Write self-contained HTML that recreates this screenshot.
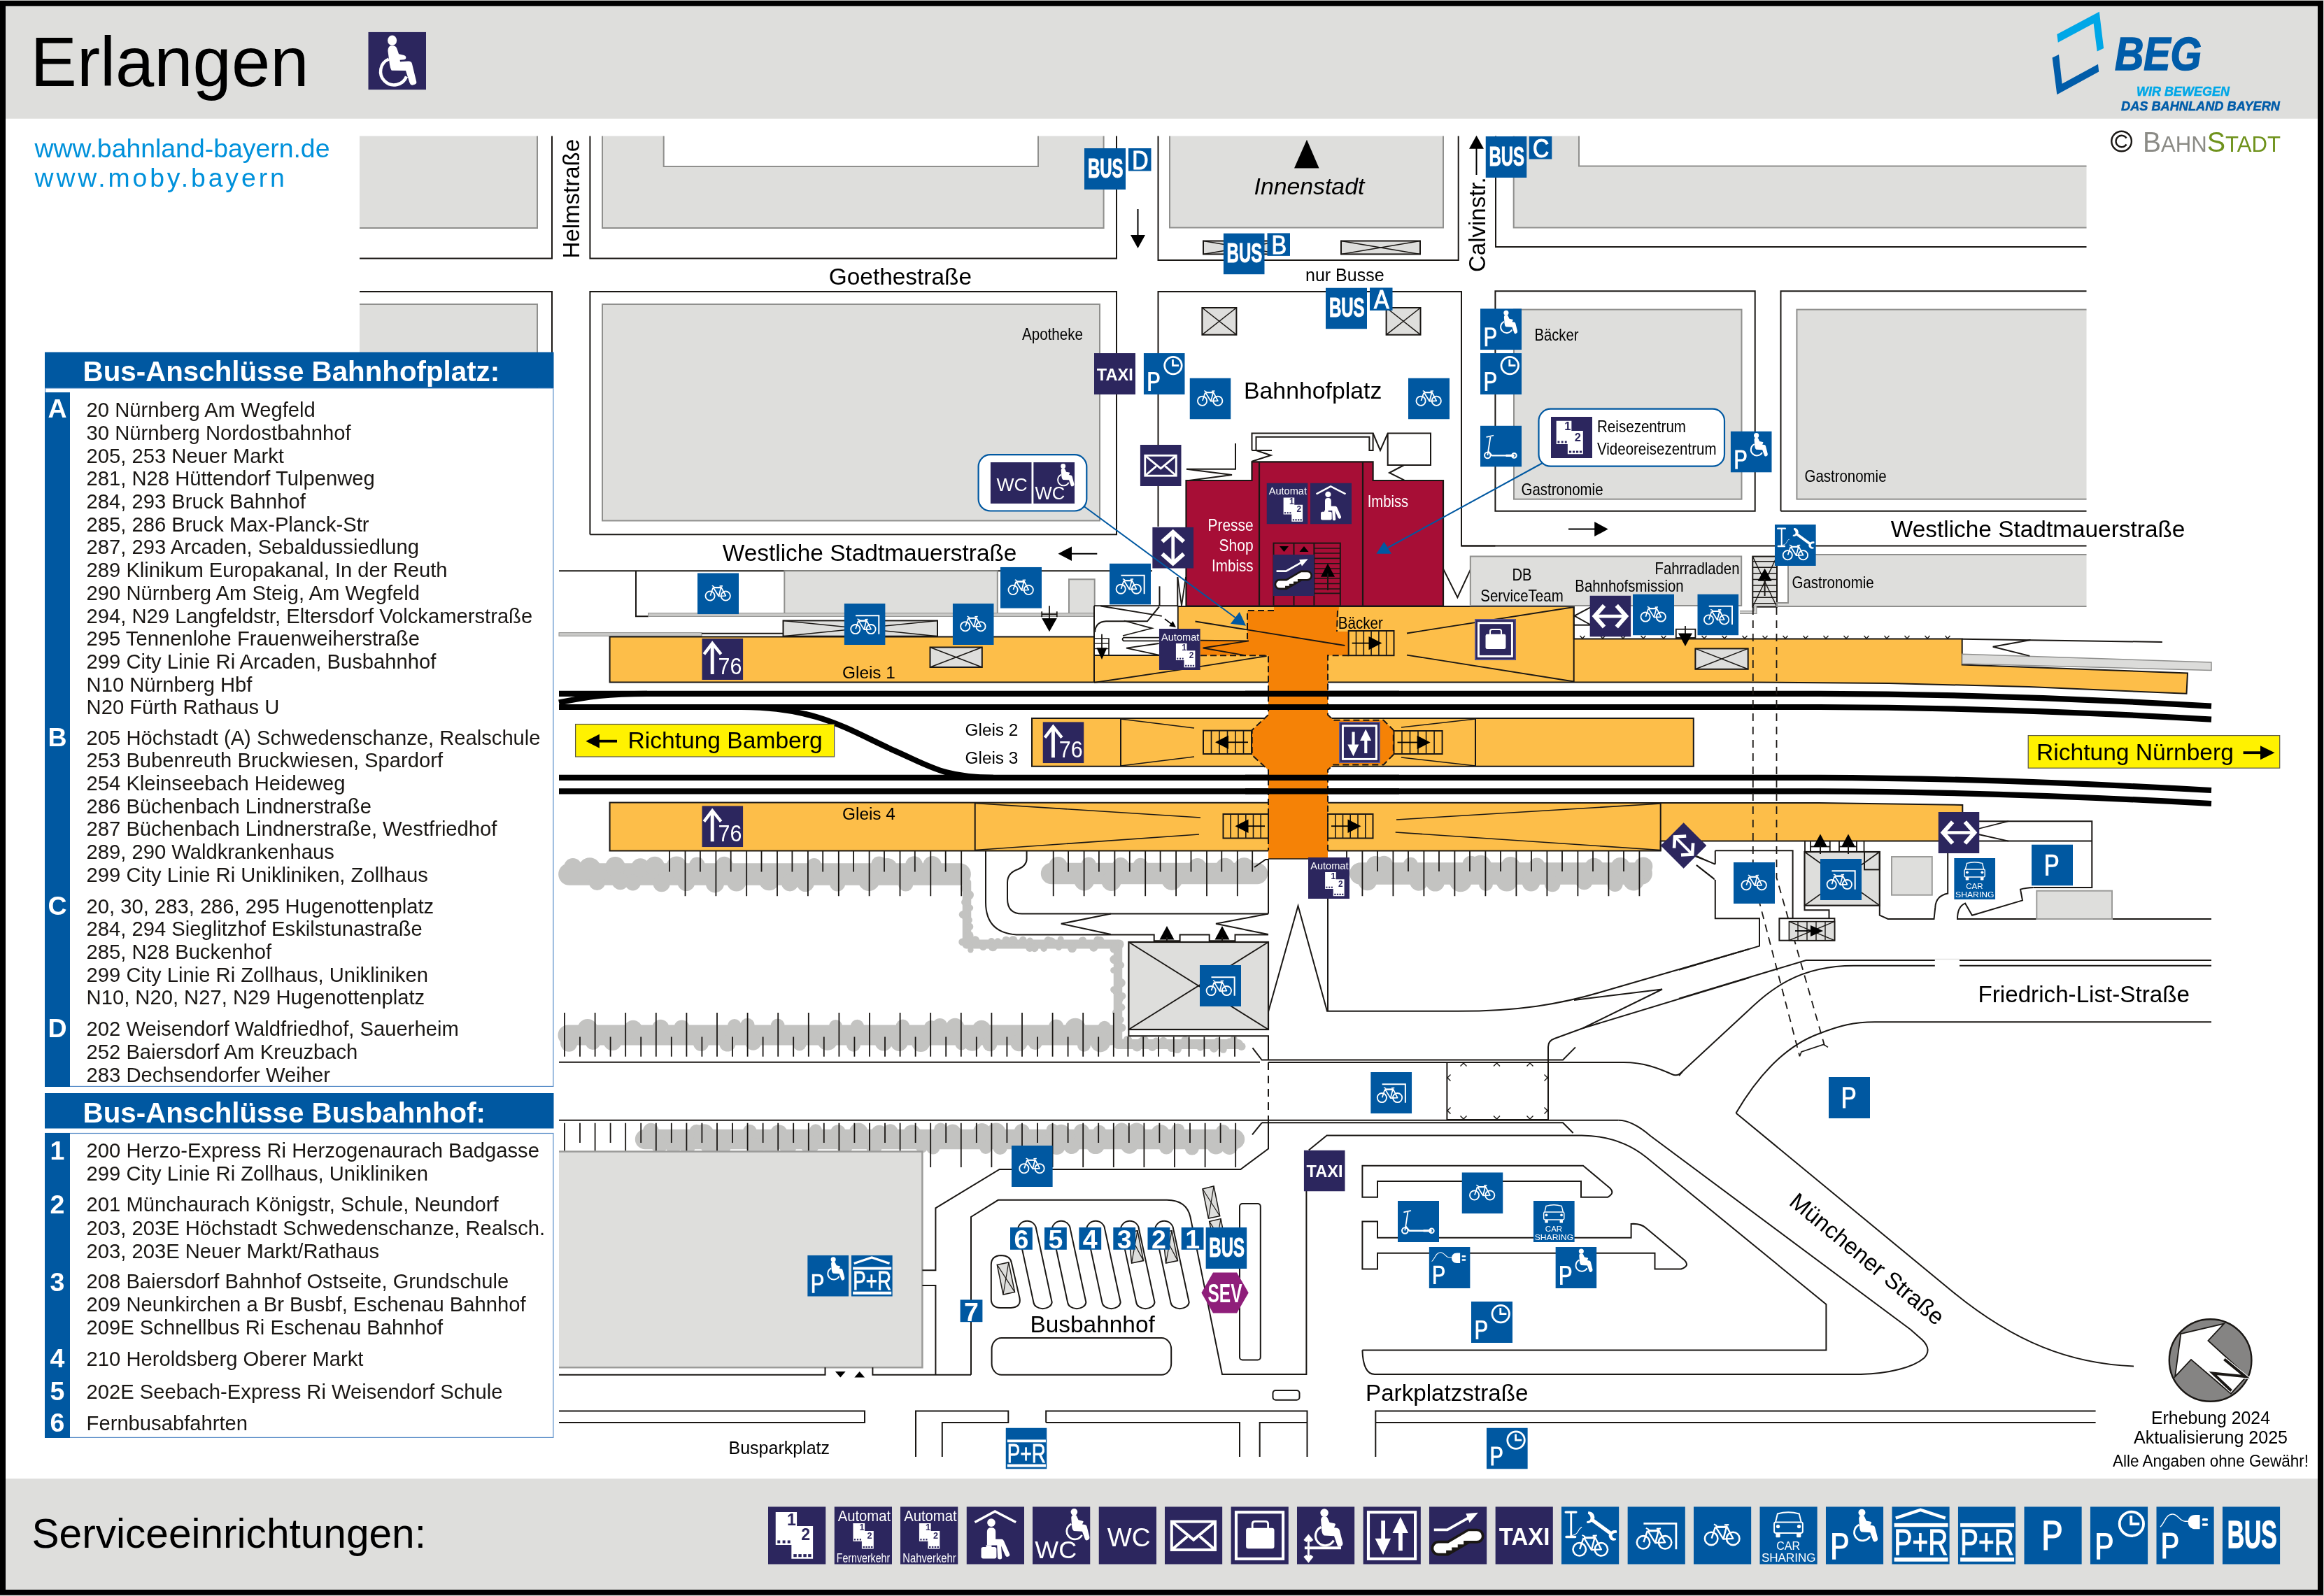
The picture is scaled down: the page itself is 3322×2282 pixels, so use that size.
<!DOCTYPE html>
<html><head><meta charset="utf-8"><title>Erlangen</title>
<style>html,body{margin:0;padding:0;background:#fff}svg{display:block;will-change:transform}text{font-family:"Liberation Sans",sans-serif}</style></head>
<body><svg xmlns="http://www.w3.org/2000/svg" width="3322" height="2282" viewBox="0 0 3322 2282" font-family="Liberation Sans, sans-serif">
<defs>
<symbol id="bike" viewBox="0 0 100 100"><rect width="100" height="100" fill="#0058a1"/><g fill="none" stroke="#fff" stroke-linecap="butt"><circle cx="30.6" cy="55.4" r="11.2" stroke-width="3.1"/><circle cx="68.3" cy="55.4" r="11.2" stroke-width="3.1"/><path d="M31.2,55 L37.6,35.5 M38.3,35.2 L57.8,35.2 M38.8,36 L51.5,56.3 L68.3,55.4 L57.3,34 M57.5,33 L51.5,56.3" stroke-width="2.9" stroke-linejoin="round"/><path d="M38.3,35.2 L57.8,35.2" stroke-width="3.6"/><path d="M53.5,31.8 L61,31.5" stroke-width="2.6"/><path d="M35.2,30.6 L40.5,33.2" stroke-width="2.4"/></g></symbol>
<symbol id="bikeroof" viewBox="0 0 100 100"><rect width="100" height="100" fill="#0058a1"/><g transform="translate(-3.2,6.6)"><g fill="none" stroke="#fff" stroke-linecap="butt"><circle cx="30.6" cy="55.4" r="11.2" stroke-width="3.1"/><circle cx="68.3" cy="55.4" r="11.2" stroke-width="3.1"/><path d="M31.2,55 L37.6,35.5 M38.3,35.2 L57.8,35.2 M38.8,36 L51.5,56.3 L68.3,55.4 L57.3,34 M57.5,33 L51.5,56.3" stroke-width="2.9" stroke-linejoin="round"/><path d="M38.3,35.2 L57.8,35.2" stroke-width="3.6"/><path d="M53.5,31.8 L61,31.5" stroke-width="2.6"/><path d="M35.2,30.6 L40.5,33.2" stroke-width="2.4"/></g></g><path d="M27.9,29.2 H84.2 V74.1" fill="none" stroke="#fff" stroke-width="3.4"/></symbol>
<symbol id="bikeserv" viewBox="0 0 100 100"><rect width="100" height="100" fill="#0058a1"/><g transform="translate(0.7,18.7)"><g fill="none" stroke="#fff" stroke-linecap="butt"><circle cx="30.6" cy="55.4" r="11.2" stroke-width="3.1"/><circle cx="68.3" cy="55.4" r="11.2" stroke-width="3.1"/><path d="M31.2,55 L37.6,35.5 M38.3,35.2 L57.8,35.2 M38.8,36 L51.5,56.3 L68.3,55.4 L57.3,34 M57.5,33 L51.5,56.3" stroke-width="2.9" stroke-linejoin="round"/><path d="M38.3,35.2 L57.8,35.2" stroke-width="3.6"/><path d="M53.5,31.8 L61,31.5" stroke-width="2.6"/><path d="M35.2,30.6 L40.5,33.2" stroke-width="2.4"/></g></g><path d="M7.5,9.6 H25.5 M8.5,52.5 H24" stroke="#fff" stroke-width="4" stroke-linecap="round" fill="none"/><path d="M16.8,9.6 V52" stroke="#fff" stroke-width="3.4" fill="none"/><path d="M18,50 C26,49 28,45 30,41 C32,37 33,36.5 35.5,36" stroke="#fff" stroke-width="1.3" fill="none"/><path d="M52,22 L86,47" stroke="#fff" stroke-width="6.4" fill="none"/><path d="M46.5,8.5 C53,8 58,13 57.5,20.5 L52,26.5 C49,29 46,29.5 43.5,28 L44.5,25 C48,25.5 50.5,23 50.5,20 C50.5,16.5 49,14 46,12.5 Z" fill="#fff"/><path d="M96,41.5 C90,40 85.5,42.5 84,46.5 L82,50 C83,57 88,60.5 94.5,58 L94.5,55 C90.5,55.5 88,53.5 88,50.5 C88,47 91,45.5 96,45.5 Z" fill="#fff"/></symbol>
<symbol id="P" viewBox="0 0 100 100"><rect width="100" height="100" fill="#0058a1"/><path transform="translate(34,75.5) scale(1.1168) translate(-11.1,-91.8)" d="M11.1,46 H26 C34.5,46 38.8,51.5 38.8,59.6 C38.8,68 34.5,73.3 26,73.3 H17.3 V91.8 H11.1 Z M17.3,51.6 V67.7 H25.5 C30.5,67.7 32.6,64.5 32.6,59.6 C32.6,54.8 30.5,51.6 25.5,51.6 Z" fill="#fff" fill-rule="evenodd"/></symbol>
<symbol id="Pclock" viewBox="0 0 100 100"><rect width="100" height="100" fill="#0058a1"/><path transform="translate(11.2,91.6) scale(1.0001) translate(-11.1,-91.8)" d="M11.1,46 H26 C34.5,46 38.8,51.5 38.8,59.6 C38.8,68 34.5,73.3 26,73.3 H17.3 V91.8 H11.1 Z M17.3,51.6 V67.7 H25.5 C30.5,67.7 32.6,64.5 32.6,59.6 C32.6,54.8 30.5,51.6 25.5,51.6 Z" fill="#fff" fill-rule="evenodd"/><circle cx="71.6" cy="29.8" r="20.8" fill="none" stroke="#fff" stroke-width="4.7"/><path d="M70.8,15.4 V30 H85.4" fill="none" stroke="#fff" stroke-width="4.7"/></symbol>
<symbol id="Pwheel" viewBox="0 0 100 100"><rect width="100" height="100" fill="#0058a1"/><path transform="translate(11.2,91.6) scale(1.0001) translate(-11.1,-91.8)" d="M11.1,46 H26 C34.5,46 38.8,51.5 38.8,59.6 C38.8,68 34.5,73.3 26,73.3 H17.3 V91.8 H11.1 Z M17.3,51.6 V67.7 H25.5 C30.5,67.7 32.6,64.5 32.6,59.6 C32.6,54.8 30.5,51.6 25.5,51.6 Z" fill="#fff" fill-rule="evenodd"/><g transform="translate(62.6,10.25) scale(1)"><circle cx="0" cy="0" r="6.05" fill="#fff"/><path d="M-2.1,5.25 Q-5,6.5 -5.2,10 L-4,25.85 Q-3.5,32 -0.5,33.9 L14.5,34.75 L19.3,48.35 Q20.5,51.5 23.5,50.4 Q28,49 27.5,44.95 L22.7,25.85 Q22,22.9 19,22.6 L14.5,22.05 L16.6,17.65 Q16.8,16.2 15.2,15.95 L7.7,14.25 L4.6,7.5 Q3.8,5.6 2.1,5.25 Z" fill="#fff"/><path d="M-4.9,21.3 A14.4,14.4 0 1 0 13.9,41.15" fill="none" stroke="#fff" stroke-width="3.4"/></g></symbol>
<symbol id="Pcharge" viewBox="0 0 100 100"><rect width="100" height="100" fill="#0058a1"/><path transform="translate(10.9,90) scale(0.9774) translate(-11.1,-91.8)" d="M11.1,46 H26 C34.5,46 38.8,51.5 38.8,59.6 C38.8,68 34.5,73.3 26,73.3 H17.3 V91.8 H11.1 Z M17.3,51.6 V67.7 H25.5 C30.5,67.7 32.6,64.5 32.6,59.6 C32.6,54.8 30.5,51.6 25.5,51.6 Z" fill="#fff" fill-rule="evenodd"/><path d="M6.8,35 C14,30 16,13 28,13 C38,13 40,25.5 50,25.5 L56,25.5" fill="none" stroke="#fff" stroke-width="1.7"/><path d="M75.5,14.3 V38.9 H68 C59,38.9 55,33 55,26.6 C55,20 59,14.3 68,14.3 Z" fill="#fff"/><rect x="79.6" y="20.3" width="9.6" height="4.2" rx="1.5" fill="#fff"/><rect x="79.6" y="29.2" width="9.6" height="4.2" rx="1.5" fill="#fff"/></symbol>
<symbol id="PR" viewBox="0 0 100 100"><rect width="100" height="100" fill="#0058a1"/><text x="50.5" y="84" text-anchor="middle" textLength="93" lengthAdjust="spacingAndGlyphs" font-family="Liberation Sans, sans-serif" font-size="62" fill="#fff" stroke="#fff" stroke-width="1.3">P+R</text><rect x="4" y="28.7" width="93.3" height="6.5" fill="#fff"/><rect x="4" y="88.2" width="93.3" height="7" fill="#fff"/></symbol>
<symbol id="PRroof" viewBox="0 0 100 100"><rect width="100" height="100" fill="#0058a1"/><text x="50.5" y="84" text-anchor="middle" textLength="93" lengthAdjust="spacingAndGlyphs" font-family="Liberation Sans, sans-serif" font-size="62" fill="#fff" stroke="#fff" stroke-width="1.3">P+R</text><rect x="4" y="28.7" width="93.3" height="6.5" fill="#fff"/><rect x="4" y="88.2" width="93.3" height="7" fill="#fff"/><path d="M6.7,20 L49.7,5.6 L92.7,20" fill="none" stroke="#fff" stroke-width="5.5"/></symbol>
<symbol id="BUS" viewBox="0 0 100 100"><rect width="100" height="100" fill="#0058a1"/><text x="51.3" y="71" text-anchor="middle" textLength="86" lengthAdjust="spacingAndGlyphs" font-family="Liberation Sans, sans-serif" font-size="66.5" font-weight="bold" fill="#fff" stroke="#fff" stroke-width="1.6">BUS</text></symbol>
<symbol id="carshare" viewBox="0 0 100 100"><rect width="100" height="100" fill="#0058a1"/><path d="M27.5,27 L31,12.5 Q49.5,7 68.5,12.5 L72,27" fill="none" stroke="#fff" stroke-width="2.4"/><rect x="25.2" y="27" width="49.4" height="18.8" rx="3" fill="none" stroke="#fff" stroke-width="2.4"/><circle cx="31.8" cy="34.4" r="3.2" fill="#fff"/><circle cx="68.2" cy="34.4" r="3.2" fill="#fff"/><rect x="28" y="46" width="7.6" height="7.3" rx="1" fill="#fff"/><rect x="64" y="46" width="7.6" height="7.3" rx="1" fill="#fff"/><text x="49.5" y="74.4" text-anchor="middle" font-family="Liberation Sans, sans-serif" font-size="19.5" fill="#fff">CAR</text><text x="50.2" y="95" text-anchor="middle" textLength="94" lengthAdjust="spacingAndGlyphs" font-family="Liberation Sans, sans-serif" font-size="19.5" fill="#fff">SHARING</text></symbol>
<symbol id="scooter" viewBox="0 0 100 100"><rect width="100" height="100" fill="#0058a1"/><g fill="none" stroke="#fff"><circle cx="17.5" cy="72" r="7.2" stroke-width="3.5"/><circle cx="82" cy="72.5" r="5.6" stroke-width="3.5"/><path d="M17.5,72 L24.5,27" stroke-width="3.1"/><path d="M15.5,27.5 L31,24" stroke-width="3" stroke-linecap="round"/><path d="M19,62 L28,72.5 L82,72.5" stroke-width="3.9" stroke-linejoin="round"/><path d="M62,72.5 L82,72.5" stroke-width="5.4"/></g></symbol>
<symbol id="taxi" viewBox="0 0 100 100"><rect width="100" height="100" fill="#2c265e"/><text x="50.5" y="66" text-anchor="middle" textLength="88" lengthAdjust="spacingAndGlyphs" font-family="Liberation Sans, sans-serif" font-size="42" font-weight="bold" fill="#fff">TAXI</text></symbol>
<symbol id="ticket" viewBox="0 0 100 100"><rect width="100" height="100" fill="#2c265e"/><g transform="translate(0,0) scale(1)"><path d="M13,9.6 H49.8 V33.7 H77.7 V90.3 H40.4 V66.3 H13 Z" fill="#fff"/><g fill="#2c265e"><rect x="16.1" y="58.5" width="4.8" height="5"/><rect x="25" y="58.5" width="4.8" height="5"/><rect x="33.6" y="58.5" width="4.8" height="5"/><rect x="44" y="82.3" width="5.4" height="5"/><rect x="52.5" y="82.3" width="5.4" height="5"/><rect x="61" y="82.3" width="5.4" height="5"/><rect x="69.3" y="82.3" width="5.4" height="5"/><text x="40.6" y="32.6" text-anchor="middle" font-family="Liberation Sans, sans-serif" font-size="28" font-weight="bold">1</text><text x="65.2" y="58.5" text-anchor="middle" font-family="Liberation Sans, sans-serif" font-size="28" font-weight="bold">2</text></g></g></symbol>
<symbol id="automatF" viewBox="0 0 100 100"><rect width="100" height="100" fill="#2c265e"/><text x="52" y="25" text-anchor="middle" textLength="91.5" lengthAdjust="spacingAndGlyphs" font-family="Liberation Sans, sans-serif" font-size="26" fill="#fff">Automat</text><g transform="translate(25.5,23.5) scale(0.55)"><path d="M13,9.6 H49.8 V33.7 H77.7 V90.3 H40.4 V66.3 H13 Z" fill="#fff"/><g fill="#2c265e"><rect x="16.1" y="58.5" width="4.8" height="5"/><rect x="25" y="58.5" width="4.8" height="5"/><rect x="33.6" y="58.5" width="4.8" height="5"/><rect x="44" y="82.3" width="5.4" height="5"/><rect x="52.5" y="82.3" width="5.4" height="5"/><rect x="61" y="82.3" width="5.4" height="5"/><rect x="69.3" y="82.3" width="5.4" height="5"/><text x="40.6" y="32.6" text-anchor="middle" font-family="Liberation Sans, sans-serif" font-size="28" font-weight="bold">1</text><text x="65.2" y="58.5" text-anchor="middle" font-family="Liberation Sans, sans-serif" font-size="28" font-weight="bold">2</text></g></g><text x="50.3" y="96.2" text-anchor="middle" textLength="92.5" lengthAdjust="spacingAndGlyphs" font-family="Liberation Sans, sans-serif" font-size="21.5" fill="#fff">Fernverkehr</text></symbol>
<symbol id="automatN" viewBox="0 0 100 100"><rect width="100" height="100" fill="#2c265e"/><text x="52" y="25" text-anchor="middle" textLength="91.5" lengthAdjust="spacingAndGlyphs" font-family="Liberation Sans, sans-serif" font-size="26" fill="#fff">Automat</text><g transform="translate(25.5,23.5) scale(0.55)"><path d="M13,9.6 H49.8 V33.7 H77.7 V90.3 H40.4 V66.3 H13 Z" fill="#fff"/><g fill="#2c265e"><rect x="16.1" y="58.5" width="4.8" height="5"/><rect x="25" y="58.5" width="4.8" height="5"/><rect x="33.6" y="58.5" width="4.8" height="5"/><rect x="44" y="82.3" width="5.4" height="5"/><rect x="52.5" y="82.3" width="5.4" height="5"/><rect x="61" y="82.3" width="5.4" height="5"/><rect x="69.3" y="82.3" width="5.4" height="5"/><text x="40.6" y="32.6" text-anchor="middle" font-family="Liberation Sans, sans-serif" font-size="28" font-weight="bold">1</text><text x="65.2" y="58.5" text-anchor="middle" font-family="Liberation Sans, sans-serif" font-size="28" font-weight="bold">2</text></g></g><text x="50.3" y="96.2" text-anchor="middle" textLength="92.5" lengthAdjust="spacingAndGlyphs" font-family="Liberation Sans, sans-serif" font-size="21.5" fill="#fff">Nahverkehr</text></symbol>
<symbol id="automat" viewBox="0 0 100 100"><rect width="100" height="100" fill="#2c265e"/><text x="51.5" y="28.3" text-anchor="middle" textLength="92" lengthAdjust="spacingAndGlyphs" font-family="Liberation Sans, sans-serif" font-size="25.5" fill="#fff">Automat</text><g transform="translate(31.5,28.5) scale(0.72)"><path d="M13,9.6 H49.8 V33.7 H77.7 V90.3 H40.4 V66.3 H13 Z" fill="#fff"/><g fill="#2c265e"><rect x="16.1" y="58.5" width="4.8" height="5"/><rect x="25" y="58.5" width="4.8" height="5"/><rect x="33.6" y="58.5" width="4.8" height="5"/><rect x="44" y="82.3" width="5.4" height="5"/><rect x="52.5" y="82.3" width="5.4" height="5"/><rect x="61" y="82.3" width="5.4" height="5"/><rect x="69.3" y="82.3" width="5.4" height="5"/><text x="40.6" y="32.6" text-anchor="middle" font-family="Liberation Sans, sans-serif" font-size="28" font-weight="bold">1</text><text x="65.2" y="58.5" text-anchor="middle" font-family="Liberation Sans, sans-serif" font-size="28" font-weight="bold">2</text></g></g></symbol>
<symbol id="waiting" viewBox="0 0 100 100"><rect width="100" height="100" fill="#2c265e"/><path d="M14.5,27 L49.4,8.3 L85.6,27" fill="none" stroke="#fff" stroke-width="4.2"/><circle cx="43" cy="27.8" r="7" fill="#fff"/><path d="M35.6,43.5 Q35.6,36.4 43,36.4 Q50.5,36.4 50.5,43.5 V56.5 H60.5 Q63.5,56.5 64.8,59.5 L74.5,81.5 Q76,85 72.5,86.5 Q69,88 67.3,84.5 L60,68 L61.5,88 Q61.8,91 58,91.2 Q54.3,91.2 54,88 L53,67 H35.6 Z" fill="#fff"/><rect x="25.5" y="70" width="26.5" height="20" rx="3.5" fill="#fff"/><rect x="34" y="66.8" width="9.5" height="4" fill="#fff"/></symbol>
<symbol id="wcwheel" viewBox="0 0 100 100"><rect width="100" height="100" fill="#2c265e"/><text x="4" y="90" font-family="Liberation Sans, sans-serif" font-size="43.5" fill="#fff">WC</text><g transform="translate(72,9.3) scale(0.97)"><circle cx="0" cy="0" r="6.05" fill="#fff"/><path d="M-2.1,5.25 Q-5,6.5 -5.2,10 L-4,25.85 Q-3.5,32 -0.5,33.9 L14.5,34.75 L19.3,48.35 Q20.5,51.5 23.5,50.4 Q28,49 27.5,44.95 L22.7,25.85 Q22,22.9 19,22.6 L14.5,22.05 L16.6,17.65 Q16.8,16.2 15.2,15.95 L7.7,14.25 L4.6,7.5 Q3.8,5.6 2.1,5.25 Z" fill="#fff"/><path d="M-4.9,21.3 A14.4,14.4 0 1 0 13.9,41.15" fill="none" stroke="#fff" stroke-width="3.4"/></g></symbol>
<symbol id="wc" viewBox="0 0 100 100"><rect width="100" height="100" fill="#2c265e"/><text x="52.3" y="68.7" text-anchor="middle" font-family="Liberation Sans, sans-serif" font-size="45" fill="#fff">WC</text></symbol>
<symbol id="mail" viewBox="0 0 100 100"><rect width="100" height="100" fill="#2c265e"/><rect x="12" y="25.9" width="75.4" height="49" fill="none" stroke="#fff" stroke-width="4.8"/><path d="M12.5,26.5 L50,57.5 L87,26.5 M12.5,74.5 L39,52 M87,74.5 L61,52" fill="none" stroke="#fff" stroke-width="4.8"/></symbol>
<symbol id="locker" viewBox="0 0 100 100"><rect width="100" height="100" fill="#2c265e"/><rect x="9.2" y="9.7" width="81.3" height="80.8" fill="none" stroke="#fff" stroke-width="5"/><rect x="26.3" y="36.9" width="49" height="36" rx="4" fill="#fff"/><path d="M37.3,38 V30 Q37.3,25.6 42,25.6 H60 Q64.5,25.6 64.5,30 V38" fill="none" stroke="#fff" stroke-width="3.4"/></symbol>
<symbol id="lift" viewBox="0 0 100 100"><rect width="100" height="100" fill="#2c265e"/><g transform="translate(47.5,10.8) scale(1.16)"><circle cx="0" cy="0" r="6.05" fill="#fff"/><path d="M-2.1,5.25 Q-5,6.5 -5.2,10 L-4,25.85 Q-3.5,32 -0.5,33.9 L14.5,34.75 L19.3,48.35 Q20.5,51.5 23.5,50.4 Q28,49 27.5,44.95 L22.7,25.85 Q22,22.9 19,22.6 L14.5,22.05 L16.6,17.65 Q16.8,16.2 15.2,15.95 L7.7,14.25 L4.6,7.5 Q3.8,5.6 2.1,5.25 Z" fill="#fff"/><path d="M-4.9,21.3 A14.4,14.4 0 1 0 13.9,41.15" fill="none" stroke="#fff" stroke-width="3.4"/></g><path d="M13.3,71.6 H76.5" stroke="#fff" stroke-width="5" fill="none"/><path d="M20,52 V92" stroke="#fff" stroke-width="3.6" fill="none"/><path d="M20,47.5 L28.5,58 L23.5,61.5 L20,57.5 L16.5,61.5 L11.5,58 Z M20,97.5 L28.5,87 L23.5,83.5 L20,87.5 L16.5,83.5 L11.5,87 Z" fill="#fff"/></symbol>
<symbol id="elevator" viewBox="0 0 100 100"><rect width="100" height="100" fill="#2c265e"/><rect x="9.2" y="9.7" width="81.3" height="80.8" fill="none" stroke="#fff" stroke-width="5"/><path d="M31.3,24.4 H38.3 V55.2 H48.1 L34.8,83.3 L20.8,55.2 H31.3 Z" fill="#fff"/><path d="M64.8,17.7 L78.3,45.8 H68.4 V76.3 H61.4 V45.8 H51 Z" fill="#fff"/></symbol>
<symbol id="escalator" viewBox="0 0 100 100"><rect width="100" height="100" fill="#2c265e"/><path d="M8.3,40.2 H31.4 L68.3,19.3" fill="none" stroke="#fff" stroke-width="4.7"/><path d="M84.8,10.4 L63.6,12.2 L69.9,28 Z" fill="#fff"/><path d="M16.3,59 H32.2 L67.5,38.1 H82.6 A12.8,12.8 0 0 1 82.6,63.7 H69.9 L33,85.2 H16.3 A13.1,13.1 0 0 1 16.3,59 Z" fill="#1a1714"/><path d="M16.3,63.5 H33 L68.3,42.6 H82.6 A8.3,8.3 0 0 1 82.6,59.2 H59.7 V65.4 H49.5 V70.6 H39.2 V75.9 H29.4 V80.7 H16.3 A8.6,8.6 0 0 1 16.3,63.5 Z" fill="#fff"/></symbol>
<symbol id="harrow" viewBox="0 0 100 100"><rect width="100" height="100" fill="#2c265e"/><path d="M14,50 H86" stroke="#fff" stroke-width="8" fill="none"/><path d="M35,24 L12,50 L35,76 M65,24 L88,50 L65,76" stroke="#fff" stroke-width="10" fill="none" stroke-linejoin="miter"/></symbol>
<symbol id="a76" viewBox="0 0 100 100"><rect width="100" height="100" fill="#2c265e"/><path d="M25.3,13 V86.4" stroke="#fff" stroke-width="8.4" fill="none"/><path d="M5.2,38 L25.3,11.5 L46.4,38" stroke="#fff" stroke-width="7.4" fill="none"/><text x="39.4" y="86.4" textLength="57.5" lengthAdjust="spacingAndGlyphs" font-family="Liberation Sans, sans-serif" font-size="55" fill="#fff">76</text></symbol>
<symbol id="wheelhdr" viewBox="0 0 100 100"><rect width="100" height="100" fill="#2c265e"/><ellipse cx="41.5" cy="14.7" rx="7.9" ry="8.9" fill="#fff"/><path d="M38.5,24 Q34,26 34,32.8 L36.3,49.8 Q37.5,62 40.5,66.6 L64.9,66.8 L71.8,88.4 Q73.5,93 77.5,91.6 Q84.5,90 83.4,86.1 L75.7,54.4 Q74.5,50.8 69.5,50.6 L55.2,51.4 L54.8,48.3 L61.8,47.9 Q66,47 65.3,43.6 Q65,40.8 62,40.3 L52.9,38.2 L49.8,29 Q48,24.5 44.5,24 Z" fill="#fff"/><path d="M35.65,46.9 A23.2,23.2 0 1 0 66.2,76.9" fill="none" stroke="#fff" stroke-width="5.4"/></symbol>
</defs>
<rect x="0" y="0" width="3322" height="2282" fill="#d8d8d6" />
<rect x="0" y="0.9" width="3321" height="2279.9" fill="#000" />
<rect x="8" y="8.9" width="3305" height="2263.8" fill="#fff" />
<rect x="8" y="8.9" width="3305" height="160.8" fill="#dededc" />
<rect x="8" y="2114.2" width="3305" height="158.5" fill="#dededc" />
<text x="43.6" y="122.7" font-size="99.4" fill="#000" id="t_erl">Erlangen</text>
<use href="#wheelhdr" x="526.3" y="45.7" width="82.7" height="82.7" />
<text x="49.5" y="225.2" font-size="37.4" fill="#0091db" id="t_url1">www.bahnland-bayern.de</text>
<text x="49.5" y="267" font-size="37.4" fill="#0091db" letter-spacing="3.9" id="t_url2">www.moby.bayern</text>
<text x="45.5" y="2213" font-size="58.6" fill="#000" id="t_serv">Serviceeinrichtungen:</text>
<polygon points="2940.3,49 3000.8,16.7 3007.1,69 2997.7,73.5 2992.6,33.6 2941.8,60.8" fill="#00a7e7" stroke="none" stroke-width="0" />
<polygon points="2933.6,82.6 2943,78.1 2947.6,119.8 2999,91.7 3000.2,102.6 2940.3,135.3" fill="#005ca9" stroke="none" stroke-width="0" />
<text x="3023" y="99.5" font-size="66" fill="#005ca9" font-weight="bold" font-style="italic" textLength="124" lengthAdjust="spacingAndGlyphs" id="t_beg" stroke="#005ca9" stroke-width="1.6">BEG</text>
<text x="3054" y="136.5" font-size="19" fill="#00a7e7" font-weight="bold" font-style="italic" textLength="133" lengthAdjust="spacingAndGlyphs" id="t_wir" stroke="#00a7e7" stroke-width="0.5">WIR BEWEGEN</text>
<text x="3032" y="157.6" font-size="19" fill="#005ca9" font-weight="bold" font-style="italic" textLength="227" lengthAdjust="spacingAndGlyphs" id="t_das" stroke="#005ca9" stroke-width="0.5">DAS BAHNLAND BAYERN</text>
<circle cx="3032.6" cy="202" r="14.3" fill="none" stroke="#1a1714" stroke-width="2.4"/>
<path d="M3039.6,197.5 A8.2,8.2 0 1 0 3039.6,206.5" fill="none" stroke="#1a1714" stroke-width="2.4" />
<text x="3063" y="216.5" textLength="197" lengthAdjust="spacingAndGlyphs" id="t_bs" font-family="Liberation Sans, sans-serif" fill="#8b8b86"><tspan font-size="40">B</tspan><tspan font-size="32">AHN</tspan><tspan font-size="40.5" fill="#6f921c">S</tspan><tspan font-size="32" fill="#6f921c">TADT</tspan></text>
<text x="3160" y="2035.9" font-size="25" fill="#000" text-anchor="middle" textLength="170" lengthAdjust="spacingAndGlyphs" >Erhebung 2024</text>
<text x="3160" y="2064.4" font-size="25" fill="#000" text-anchor="middle" textLength="220" lengthAdjust="spacingAndGlyphs" >Aktualisierung 2025</text>
<text x="3160" y="2097" font-size="24.5" fill="#000" text-anchor="middle" textLength="280" lengthAdjust="spacingAndGlyphs" >Alle Angaben ohne Gewähr!</text>
<use href="#ticket" x="1098" y="2154.2" width="82.5" height="82.5" />
<use href="#automatF" x="1192.5" y="2154.2" width="82.5" height="82.5" />
<use href="#automatN" x="1287" y="2154.2" width="82.5" height="82.5" />
<use href="#waiting" x="1381.5" y="2154.2" width="82.5" height="82.5" />
<use href="#wcwheel" x="1476" y="2154.2" width="82.5" height="82.5" />
<use href="#wc" x="1570.5" y="2154.2" width="82.5" height="82.5" />
<use href="#mail" x="1664.9" y="2154.2" width="82.5" height="82.5" />
<use href="#locker" x="1759.4" y="2154.2" width="82.5" height="82.5" />
<use href="#lift" x="1853.9" y="2154.2" width="82.5" height="82.5" />
<use href="#elevator" x="1948.4" y="2154.2" width="82.5" height="82.5" />
<use href="#escalator" x="2042.9" y="2154.2" width="82.5" height="82.5" />
<use href="#taxi" x="2137.4" y="2154.2" width="82.5" height="82.5" />
<use href="#bikeserv" x="2231.9" y="2154.2" width="82.5" height="82.5" />
<use href="#bikeroof" x="2326.4" y="2154.2" width="82.5" height="82.5" />
<use href="#bike" x="2420.9" y="2154.2" width="82.5" height="82.5" />
<use href="#carshare" x="2515.3" y="2154.2" width="82.5" height="82.5" />
<use href="#Pwheel" x="2609.8" y="2154.2" width="82.5" height="82.5" />
<use href="#PRroof" x="2704.3" y="2154.2" width="82.5" height="82.5" />
<use href="#PR" x="2798.8" y="2154.2" width="82.5" height="82.5" />
<use href="#P" x="2893.3" y="2154.2" width="82.5" height="82.5" />
<use href="#Pclock" x="2987.8" y="2154.2" width="82.5" height="82.5" />
<use href="#Pcharge" x="3082.3" y="2154.2" width="82.5" height="82.5" />
<use href="#BUS" x="3176.8" y="2154.2" width="82.5" height="82.5" />
<g id="map">
<clipPath id="cu"><rect x="514" y="194.5" width="2468.5" height="700"/></clipPath>
<g clip-path="url(#cu)">
<rect x="500" y="180" width="268" height="146" fill="#dededc" stroke="#8f8f8d" stroke-width="2" />
<polygon points="861,180 948.7,180 948.7,238 1484,238 1484,180 1577.6,180 1577.6,326 861,326" fill="#dededc" stroke="#8f8f8d" stroke-width="2" />
<rect x="1672" y="180" width="391" height="145.5" fill="#dededc" stroke="#8f8f8d" stroke-width="2" />
<polygon points="2163.7,180 2257,180 2257,237.5 3000,237.5 3000,325.5 2163.7,325.5" fill="#dededc" stroke="#8f8f8d" stroke-width="2" />
<path d="M500,369.5 L789,369.5 L789,180" fill="none" stroke="#1a1714" stroke-width="2" />
<path d="M843.4,180 L843.4,369.5 L1596,369.5 L1596,180" fill="none" stroke="#1a1714" stroke-width="2" />
<path d="M1655.5,180 L1655.5,372 L2084.7,372 L2084.7,180" fill="none" stroke="#1a1714" stroke-width="2" />
<path d="M2138,180 L2138,353 L3000,353" fill="none" stroke="#1a1714" stroke-width="2" />
<rect x="500" y="435" width="268" height="465" fill="#dededc" stroke="#8f8f8d" stroke-width="2" />
<path d="M500,417 L789,417 L789,900" fill="none" stroke="#1a1714" stroke-width="2" />
<rect x="861" y="435" width="711" height="309.5" fill="#dededc" stroke="#8f8f8d" stroke-width="2" />
<path d="M843.4,764.2 L843.4,417 L1596,417 L1596,764.2 L843.4,764.2" fill="none" stroke="#1a1714" stroke-width="2" />
<path d="M1655.5,753 L1655.5,417 L2089,417 L2089,780.5 L2137.4,780.5" fill="none" stroke="#1a1714" stroke-width="2" />
<path d="M2137.4,416.3 L2508.7,416.3 L2508.7,730.8 L2137.4,730.8Z" fill="none" stroke="#1a1714" stroke-width="2" />
<rect x="2164" y="442.6" width="325.5" height="271.1" fill="#dededc" stroke="#8f8f8d" stroke-width="2" />
<path d="M2545.5,730.8 L2545.5,416.3 L3000,416.3" fill="none" stroke="#1a1714" stroke-width="2" />
<path d="M2545.5,730.8 L3000,730.8" fill="none" stroke="#1a1714" stroke-width="2" />
<rect x="2568.4" y="442.6" width="431.6" height="271.1" fill="#dededc" stroke="#8f8f8d" stroke-width="2" />
</g>
<rect x="1720" y="344.5" width="113" height="18.9" fill="#dededc" stroke="#1a1714" stroke-width="2" />
<path d="M1720,344.5 L1833,363.4" fill="none" stroke="#1a1714" stroke-width="1.5" />
<path d="M1833,344.5 L1720,363.4" fill="none" stroke="#1a1714" stroke-width="1.5" />
<rect x="1917" y="344.5" width="113" height="18.9" fill="#dededc" stroke="#1a1714" stroke-width="2" />
<path d="M1917,344.5 L2030,363.4" fill="none" stroke="#1a1714" stroke-width="1.5" />
<path d="M2030,344.5 L1917,363.4" fill="none" stroke="#1a1714" stroke-width="1.5" />
<rect x="1718.4" y="440" width="49" height="38.7" fill="#dededc" stroke="#1a1714" stroke-width="2" />
<path d="M1718.4,440 L1767.4,478.7" fill="none" stroke="#1a1714" stroke-width="1.5" />
<path d="M1767.4,440 L1718.4,478.7" fill="none" stroke="#1a1714" stroke-width="1.5" />
<rect x="1981.6" y="440" width="48.9" height="38.7" fill="#dededc" stroke="#1a1714" stroke-width="2" />
<path d="M1981.6,440 L2030.5,478.7" fill="none" stroke="#1a1714" stroke-width="1.5" />
<path d="M2030.5,440 L1981.6,478.7" fill="none" stroke="#1a1714" stroke-width="1.5" />
<polygon points="1868,199.7 1850,240.5 1885.5,240.5" fill="#000" stroke="none" stroke-width="0" />
<path d="M1626.5,299 L1626.5,338" fill="none" stroke="#000" stroke-width="2" />
<polygon points="1626.5,355 1616,336 1637,336" fill="#000" stroke="none" stroke-width="0" />
<path d="M2110.5,250 L2110.5,210.7" fill="none" stroke="#000" stroke-width="2" />
<polygon points="2110.5,193.7 2121,212.7 2100,212.7" fill="#000" stroke="none" stroke-width="0" />
<path d="M2242,756.6 L2281.2,756.6" fill="none" stroke="#000" stroke-width="2" />
<polygon points="2298.7,756.6 2279.2,767.1 2279.2,746.1" fill="#000" stroke="none" stroke-width="0" />
<path d="M1568.3,791.7 L1530,791.7" fill="none" stroke="#000" stroke-width="2" />
<polygon points="1512.5,791.7 1532,781.4 1532,802" fill="#000" stroke="none" stroke-width="0" />
<text x="1184.8" y="407" font-size="33.4" fill="#000" >Goethestraße</text>
<text x="1778" y="569.5" font-size="33.8" fill="#000" >Bahnhofplatz</text>
<text x="1792.5" y="277.6" font-size="33.8" fill="#000" font-style="italic" id="t_inn">Innenstadt</text>
<text x="1866" y="402.4" font-size="25" fill="#000" >nur Busse</text>
<text x="1032.8" y="801.8" font-size="33.4" fill="#000" id="t_wsl">Westliche Stadtmauerstraße</text>
<text x="2702.8" y="767.5" font-size="33.4" fill="#000" id="t_wsr">Westliche Stadtmauerstraße</text>
<text transform="translate(827.5,369.5) rotate(-90)" font-size="33">Helmstraße</text>
<text transform="translate(2123,389) rotate(-90)" font-size="33">Calvinstr.</text>
<text x="1461" y="486" font-size="24" fill="#000" textLength="87" lengthAdjust="spacingAndGlyphs" >Apotheke</text>
<text x="2193.4" y="486.8" font-size="24" fill="#000" textLength="63" lengthAdjust="spacingAndGlyphs" >Bäcker</text>
<text x="2174.5" y="708" font-size="24" fill="#000" textLength="117" lengthAdjust="spacingAndGlyphs" >Gastronomie</text>
<text x="2579.5" y="689" font-size="24" fill="#000" textLength="117" lengthAdjust="spacingAndGlyphs" >Gastronomie</text>
<path d="M799,816.3 L1647,816.3" fill="none" stroke="#1a1714" stroke-width="2" />
<path d="M909,816.3 L909,881.3 L927,881.3" fill="none" stroke="#1a1714" stroke-width="2" />
<rect x="1121.3" y="816.3" width="304.5" height="62.4" fill="#dededc" stroke="#8f8f8d" stroke-width="2" />
<rect x="1528" y="828.3" width="36.7" height="50.7" fill="#dededc" stroke="#8f8f8d" stroke-width="2" />
<rect x="926.6" y="876.6" width="646.4" height="4.8" fill="#c9c9c7" stroke="#8f8f8d" stroke-width="1" />
<rect x="799" y="904.6" width="204" height="4.8" fill="#c9c9c7" stroke="#8f8f8d" stroke-width="1" />
<path d="M1003,905.8 L1119.5,905.8" fill="none" stroke="#1a1714" stroke-width="2" />
<path d="M799,991.8 H2600 C2800,992.5 3000,1000 3161,1009.7" fill="none" stroke="#000" stroke-width="8.2" />
<path d="M799,1011 H2600 C2800,1011.7 3000,1019 3161,1028.7" fill="none" stroke="#000" stroke-width="8.2" />
<path d="M799,1111.8 H2600 C2800,1112.5 3000,1121 3161,1130" fill="none" stroke="#000" stroke-width="8.2" />
<path d="M799,1131.3 H2600 C2800,1132 3000,1140 3161,1149" fill="none" stroke="#000" stroke-width="8.2" />
<path d="M799,1004.5 C840,996 870,991.8 925,991.8" fill="none" stroke="#000" stroke-width="8.2" />
<path d="M1060,1011 C1170,1011 1215,1045 1280,1074 C1330,1096 1350,1111.8 1420,1111.8" fill="none" stroke="#000" stroke-width="8.2" />
<polygon points="871.6,910.5 1564,910.5 1564,937 1683.7,937 1683.7,867 2249.7,867 2249.7,913.4 2804.7,913.4 2804.7,950.5 3127,962.4 3125.5,991.8 2900,982 2700,977 2500,975.5 871.6,975.5" fill="#fdbe49" stroke="#1a1714" stroke-width="2" />
<polygon points="1475,1027 2420.8,1027 2420.8,1095.8 1475,1095.8" fill="#fdbe49" stroke="#1a1714" stroke-width="2" />
<polygon points="871.6,1147.4 2600,1148 2805.3,1151 2805.3,1202.5 2373.7,1202.5 2373.7,1216.5 871.6,1216.5" fill="#fdbe49" stroke="#1a1714" stroke-width="2" />
<polygon points="1821,868 1914,868 1911,903 1927.7,903 1927.7,937.2 1898,937.2 1898,1022 1906,1029.7 1977.6,1029.7 1991.8,1043.9 1991.8,1079 1977.6,1093.5 1906,1093.5 1898,1101 1898,1228 1813,1228 1813,1101 1789.7,1079.6 1789.7,1043.9 1813,1022 1813,937.2 1716,937.2 1716,915.6 1783,915.6 1783,873 1821,873" fill="#f58206" stroke="none" stroke-width="0" />
<path d="M1821,873 L1783,873 L1783,915.6" fill="none" stroke="#1a1714" stroke-width="2" stroke-dasharray="9,5"/>
<path d="M1716,937.2 L1813,937.2 L1813,1022 L1789.7,1043.9 L1789.7,1079.6 L1813,1101 L1813,1216" fill="none" stroke="#1a1714" stroke-width="2" stroke-dasharray="9,5"/>
<path d="M1912,873 L1911,903" fill="none" stroke="#1a1714" stroke-width="2" stroke-dasharray="9,5"/>
<path d="M1927.7,937.2 L1898,937.2 L1898,1022 L1906,1029.7 L1977.6,1029.7 L1991.8,1043.9 L1991.8,1079 L1977.6,1093.5 L1906,1093.5 L1898,1101 L1898,1216" fill="none" stroke="#1a1714" stroke-width="2" stroke-dasharray="9,5"/>
<path d="M1780,991.8 L2000,991.8" fill="none" stroke="#000" stroke-width="8.2" />
<path d="M1780,1011 L2000,1011" fill="none" stroke="#000" stroke-width="8.2" />
<path d="M1780,1111.8 L2000,1111.8" fill="none" stroke="#000" stroke-width="8.2" />
<path d="M1780,1131.3 L2000,1131.3" fill="none" stroke="#000" stroke-width="8.2" />
<path d="M1813,1228 L1898,1228" fill="none" stroke="#1a1714" stroke-width="1.5" />
<polygon points="1695.5,687 1789.5,687 1789.5,660.3 1962.6,660.3 1962.6,687 2063,687 2063,866.5 1695.5,866.5" fill="#a70e36" stroke="#1a1714" stroke-width="2.2" />
<path d="M1800,660.3 L1800,866.5" fill="none" stroke="#1a1714" stroke-width="2.2" />
<path d="M1948,660.3 L1948,866.5" fill="none" stroke="#1a1714" stroke-width="2.2" />
<path d="M1789.5,644 L1789.5,619.5 L1962.6,619.5 L1962.6,644 L1957.4,644 L1957.4,624.7 L1795.5,624.7 L1795.5,644" fill="none" stroke="#1a1714" stroke-width="2" />
<path d="M1789.5,644 L1818,644" fill="none" stroke="#1a1714" stroke-width="2" />
<path d="M1795.5,644 L1816.6,651 L1789.5,659.7" fill="none" stroke="#1a1714" stroke-width="2" />
<path d="M1962.6,619.5 L1973,644 L1983.7,619.5 L2045,619.5 L2045,665 L1983.7,665 L1983.7,619.5" fill="none" stroke="#1a1714" stroke-width="2" />
<path d="M2007,665 L1986,676 L2007.4,686.6" fill="none" stroke="#1a1714" stroke-width="2" />
<path d="M1766,634 L1766,670.8 L1696,670.8" fill="none" stroke="#1a1714" stroke-width="2" />
<path d="M1696,670.8 L1761,679 L1699.5,687" fill="none" stroke="#1a1714" stroke-width="2" />
<rect x="1820.5" y="776.6" width="95.3" height="89.9" fill="none" stroke="#1a1714" stroke-width="2" />
<path d="M1849.5,776.6 L1849.5,866.5" fill="none" stroke="#1a1714" stroke-width="2" />
<path d="M1878.4,776.6 L1878.4,866.5" fill="none" stroke="#1a1714" stroke-width="2" />
<path d="M1878.4,784 L1915.8,784" fill="none" stroke="#1a1714" stroke-width="1.6" />
<path d="M1878.4,791 L1915.8,791" fill="none" stroke="#1a1714" stroke-width="1.6" />
<path d="M1878.4,798.4 L1915.8,798.4" fill="none" stroke="#1a1714" stroke-width="1.6" />
<path d="M1878.4,805.8 L1915.8,805.8" fill="none" stroke="#1a1714" stroke-width="1.6" />
<path d="M1878.4,813 L1915.8,813" fill="none" stroke="#1a1714" stroke-width="1.6" />
<path d="M1878.4,820 L1915.8,820" fill="none" stroke="#1a1714" stroke-width="1.6" />
<path d="M1878.4,827 L1915.8,827" fill="none" stroke="#1a1714" stroke-width="1.6" />
<path d="M1878.4,834.5 L1915.8,834.5" fill="none" stroke="#1a1714" stroke-width="1.6" />
<path d="M1878.4,842 L1915.8,842" fill="none" stroke="#1a1714" stroke-width="1.6" />
<path d="M1878.4,848.4 L1915.8,848.4" fill="none" stroke="#1a1714" stroke-width="1.6" />
<polygon points="1898,805.8 1888,824.7 1908,824.7" fill="#000" stroke="none" stroke-width="0" />
<path d="M1898,820 L1898,844" fill="none" stroke="#1a1714" stroke-width="2" />
<polygon points="1829,781 1842,781 1835.5,789" fill="#000" stroke="none" stroke-width="0" />
<polygon points="1857.5,789 1870.5,789 1864,781" fill="#000" stroke="none" stroke-width="0" />
<path d="M2063,813.4 L2083.4,854.2 L2101.8,814.7" fill="none" stroke="#1a1714" stroke-width="2" />
<rect x="2101.8" y="795.5" width="387.4" height="70.5" fill="#dededc" stroke="#8f8f8d" stroke-width="2" />
<rect x="2505.3" y="795.6" width="34.7" height="72.1" fill="#dededc" stroke="#1a1714" stroke-width="2" />
<path d="M2505.3,802.8 L2540,802.8" fill="none" stroke="#1a1714" stroke-width="1.4" />
<path d="M2505.3,811.3 L2540,811.3" fill="none" stroke="#1a1714" stroke-width="1.4" />
<path d="M2505.3,820 L2540,820" fill="none" stroke="#1a1714" stroke-width="1.4" />
<path d="M2505.3,828.5 L2540,828.5" fill="none" stroke="#1a1714" stroke-width="1.4" />
<path d="M2505.3,837 L2540,837" fill="none" stroke="#1a1714" stroke-width="1.4" />
<path d="M2505.3,845.8 L2540,845.8" fill="none" stroke="#1a1714" stroke-width="1.4" />
<path d="M2505.3,854.3 L2540,854.3" fill="none" stroke="#1a1714" stroke-width="1.4" />
<path d="M2505.3,862.8 L2540,862.8" fill="none" stroke="#1a1714" stroke-width="1.4" />
<path d="M2505.3,795.6 L2540,867.7" fill="none" stroke="#1a1714" stroke-width="1.4" />
<path d="M2540,795.6 L2505.3,867.7" fill="none" stroke="#1a1714" stroke-width="1.4" />
<polygon points="2522.6,812.8 2512.6,830.8 2532.6,830.8" fill="#000" stroke="none" stroke-width="0" />
<path d="M2522.6,828 L2522.6,852" fill="none" stroke="#1a1714" stroke-width="2" />
<clipPath id="cr"><rect x="2088" y="770" width="894.5" height="140"/></clipPath><g clip-path="url(#cr)">
<polygon points="2556,793 3000,793 3000,867 2540,867 2540,862 2556,862" fill="#dededc" stroke="#8f8f8d" stroke-width="2" />
<path d="M2089,780.5 L3000,780.5" fill="none" stroke="#1a1714" stroke-width="2" />
</g>
<path d="M2487,875.5 H2509 V867" fill="none" stroke="#8f8f8d" stroke-width="5" />
<path d="M2487,875.5 H2509 V867" fill="none" stroke="#d5d5d3" stroke-width="2.6" />
<path d="M2273,868.7 L2250.5,880.5 L2273,893" fill="none" stroke="#1a1714" stroke-width="2" />
<path d="M2250,893.7 L2273,893.7" fill="none" stroke="#1a1714" stroke-width="2" />
<path d="M2258.5,909 L2262,913 L2265.5,909" fill="none" stroke="#1a1714" stroke-width="1.3" />
<path d="M2287.5,909 L2291,913 L2294.5,909" fill="none" stroke="#1a1714" stroke-width="1.3" />
<path d="M2316.5,909 L2320,913 L2323.5,909" fill="none" stroke="#1a1714" stroke-width="1.3" />
<path d="M2345.5,909 L2349,913 L2352.5,909" fill="none" stroke="#1a1714" stroke-width="1.3" />
<path d="M2374.5,909 L2378,913 L2381.5,909" fill="none" stroke="#1a1714" stroke-width="1.3" />
<path d="M2403.5,909 L2407,913 L2410.5,909" fill="none" stroke="#1a1714" stroke-width="1.3" />
<path d="M2432.5,909 L2436,913 L2439.5,909" fill="none" stroke="#1a1714" stroke-width="1.3" />
<path d="M2461.5,909 L2465,913 L2468.5,909" fill="none" stroke="#1a1714" stroke-width="1.3" />
<path d="M2490.5,909 L2494,913 L2497.5,909" fill="none" stroke="#1a1714" stroke-width="1.3" />
<path d="M2519.5,909 L2523,913 L2526.5,909" fill="none" stroke="#1a1714" stroke-width="1.3" />
<path d="M2548.5,909 L2552,913 L2555.5,909" fill="none" stroke="#1a1714" stroke-width="1.3" />
<path d="M2577.5,909 L2581,913 L2584.5,909" fill="none" stroke="#1a1714" stroke-width="1.3" />
<path d="M2606.5,909 L2610,913 L2613.5,909" fill="none" stroke="#1a1714" stroke-width="1.3" />
<path d="M2635.5,909 L2639,913 L2642.5,909" fill="none" stroke="#1a1714" stroke-width="1.3" />
<path d="M2664.5,909 L2668,913 L2671.5,909" fill="none" stroke="#1a1714" stroke-width="1.3" />
<path d="M2693.5,909 L2697,913 L2700.5,909" fill="none" stroke="#1a1714" stroke-width="1.3" />
<path d="M2722.5,909 L2726,913 L2729.5,909" fill="none" stroke="#1a1714" stroke-width="1.3" />
<path d="M2751.5,909 L2755,913 L2758.5,909" fill="none" stroke="#1a1714" stroke-width="1.3" />
<path d="M2780.5,909 L2784,913 L2787.5,909" fill="none" stroke="#1a1714" stroke-width="1.3" />
<polygon points="2804.7,935.3 3161,947 3161,958.4 2804.7,949" fill="#dcdcda" stroke="#8f8f8d" stroke-width="1.5" />
<path d="M2804.7,913.7 L3090.8,918" fill="none" stroke="#1a1714" stroke-width="2" />
<path d="M2902.6,915 L2848.7,924.7 L2901.3,937.9" fill="none" stroke="#1a1714" stroke-width="2" />
<path d="M1564,866.3 L1564,976" fill="none" stroke="#1a1714" stroke-width="2" />
<path d="M1564,866.3 L1683.3,866.3" fill="none" stroke="#1a1714" stroke-width="2" />
<polygon points="1565,867.3 1682.7,867.3 1682.7,936 1586,936 1586,913 1565,913" fill="#fff" stroke="none" stroke-width="0" />
<path d="M1585,937 L1657,937" fill="none" stroke="#1a1714" stroke-width="2" />
<path d="M1565,913 L1585,913 L1585,937" fill="none" stroke="#1a1714" stroke-width="1.6" />
<path d="M1565,920 L1585,920" fill="none" stroke="#1a1714" stroke-width="1.4" />
<path d="M1565,927.5 L1585,927.5" fill="none" stroke="#1a1714" stroke-width="1.4" />
<path d="M1575,906.7 L1575,930" fill="none" stroke="#1a1714" stroke-width="1.8" />
<polygon points="1575,943 1567.5,926.3 1582.5,926.3" fill="#000" stroke="none" stroke-width="0" />
<path d="M1565,904 Q1566,889 1581,888.3 H1640 L1657,867.5" fill="none" stroke="#1a1714" stroke-width="2" />
<path d="M1573.3,866.5 L1660.8,880.8" fill="none" stroke="#1a1714" stroke-width="1.8" />
<path d="M1606.7,887.5 L1646.7,898.3 L1605,909" fill="none" stroke="#1a1714" stroke-width="1.8" />
<path d="M1657,911.7 H1606 Q1603,914 1606,916.3 H1657" fill="none" stroke="#1a1714" stroke-width="1.8" />
<path d="M1656.7,920 L1610,926.7 L1656.7,936.7" fill="none" stroke="#1a1714" stroke-width="1.8" />
<path d="M1665,885 L1675.4,892.8" fill="none" stroke="#000" stroke-width="1.6" />
<polygon points="1681,897 1671.1,895.2 1676.5,888" fill="#000" stroke="none" stroke-width="0" />
<path d="M1683.3,825 L1683.3,866" fill="none" stroke="#1a1714" stroke-width="2" />
<path d="M1683.3,825 L1689,866 L1695,825" fill="none" stroke="#1a1714" stroke-width="1.8" />
<path d="M1657.5,838.3 L1657.5,866" fill="none" stroke="#1a1714" stroke-width="2" />
<path d="M1564,976 L1681.7,958.3 L1810.6,938" fill="none" stroke="#1a1714" stroke-width="1.8" />
<path d="M1708.5,888.5 L1922.4,923" fill="none" stroke="#1a1714" stroke-width="1.8" />
<path d="M1716,915.6 L1785,916.4 L1719.6,926.5 L1780.8,937.2" fill="none" stroke="#1a1714" stroke-width="1.8" />
<rect x="1927.7" y="902" width="64.8" height="35.2" fill="none" stroke="#1a1714" stroke-width="2" />
<path d="M1938.5,902 L1938.5,937.2" fill="none" stroke="#1a1714" stroke-width="1.6" />
<path d="M1949.3,902 L1949.3,937.2" fill="none" stroke="#1a1714" stroke-width="1.6" />
<path d="M1960.1,902 L1960.1,937.2" fill="none" stroke="#1a1714" stroke-width="1.6" />
<path d="M1970.9,902 L1970.9,937.2" fill="none" stroke="#1a1714" stroke-width="1.6" />
<path d="M1981.7,902 L1981.7,937.2" fill="none" stroke="#1a1714" stroke-width="1.6" />
<path d="M1932.7,919.6 L1958.5,919.6" fill="none" stroke="#000" stroke-width="1.8" />
<polygon points="1975.5,919.6 1956.5,929.3 1956.5,909.9" fill="#000" stroke="none" stroke-width="0" />
<rect x="1720" y="1044.6" width="69" height="33.4" fill="none" stroke="#1a1714" stroke-width="2" />
<path d="M1731.5,1044.6 L1731.5,1078" fill="none" stroke="#1a1714" stroke-width="1.6" />
<path d="M1743,1044.6 L1743,1078" fill="none" stroke="#1a1714" stroke-width="1.6" />
<path d="M1754.5,1044.6 L1754.5,1078" fill="none" stroke="#1a1714" stroke-width="1.6" />
<path d="M1766,1044.6 L1766,1078" fill="none" stroke="#1a1714" stroke-width="1.6" />
<path d="M1777.5,1044.6 L1777.5,1078" fill="none" stroke="#1a1714" stroke-width="1.6" />
<path d="M1784,1061.3 L1754,1061.3" fill="none" stroke="#000" stroke-width="1.8" />
<polygon points="1737,1061.3 1756,1051.6 1756,1071" fill="#000" stroke="none" stroke-width="0" />
<rect x="1992.5" y="1045" width="69.1" height="33" fill="none" stroke="#1a1714" stroke-width="2" />
<path d="M2004,1045 L2004,1078" fill="none" stroke="#1a1714" stroke-width="1.6" />
<path d="M2015.5,1045 L2015.5,1078" fill="none" stroke="#1a1714" stroke-width="1.6" />
<path d="M2027,1045 L2027,1078" fill="none" stroke="#1a1714" stroke-width="1.6" />
<path d="M2038.6,1045 L2038.6,1078" fill="none" stroke="#1a1714" stroke-width="1.6" />
<path d="M2050.1,1045 L2050.1,1078" fill="none" stroke="#1a1714" stroke-width="1.6" />
<path d="M1997.5,1061.5 L2027.6,1061.5" fill="none" stroke="#000" stroke-width="1.8" />
<polygon points="2044.6,1061.5 2025.6,1071.2 2025.6,1051.8" fill="#000" stroke="none" stroke-width="0" />
<rect x="1748.5" y="1164" width="64.5" height="34.5" fill="none" stroke="#1a1714" stroke-width="2" />
<path d="M1759.2,1164 L1759.2,1198.5" fill="none" stroke="#1a1714" stroke-width="1.6" />
<path d="M1770,1164 L1770,1198.5" fill="none" stroke="#1a1714" stroke-width="1.6" />
<path d="M1780.8,1164 L1780.8,1198.5" fill="none" stroke="#1a1714" stroke-width="1.6" />
<path d="M1791.5,1164 L1791.5,1198.5" fill="none" stroke="#1a1714" stroke-width="1.6" />
<path d="M1802.2,1164 L1802.2,1198.5" fill="none" stroke="#1a1714" stroke-width="1.6" />
<path d="M1808,1181.2 L1782.5,1181.2" fill="none" stroke="#000" stroke-width="1.8" />
<polygon points="1765.5,1181.2 1784.5,1171.5 1784.5,1191" fill="#000" stroke="none" stroke-width="0" />
<rect x="1898" y="1164" width="64.5" height="34.5" fill="none" stroke="#1a1714" stroke-width="2" />
<path d="M1908.8,1164 L1908.8,1198.5" fill="none" stroke="#1a1714" stroke-width="1.6" />
<path d="M1919.5,1164 L1919.5,1198.5" fill="none" stroke="#1a1714" stroke-width="1.6" />
<path d="M1930.2,1164 L1930.2,1198.5" fill="none" stroke="#1a1714" stroke-width="1.6" />
<path d="M1941,1164 L1941,1198.5" fill="none" stroke="#1a1714" stroke-width="1.6" />
<path d="M1951.8,1164 L1951.8,1198.5" fill="none" stroke="#1a1714" stroke-width="1.6" />
<path d="M1903,1181.2 L1928.5,1181.2" fill="none" stroke="#000" stroke-width="1.8" />
<polygon points="1945.5,1181.2 1926.5,1191 1926.5,1171.5" fill="#000" stroke="none" stroke-width="0" />
<path d="M2011,905.5 L2249.7,868" fill="none" stroke="#1a1714" stroke-width="1.8" />
<path d="M2011,936.6 L2249.7,974.5" fill="none" stroke="#1a1714" stroke-width="1.8" />
<path d="M2249.7,867 L2249.7,975.3" fill="none" stroke="#1a1714" stroke-width="2" />
<path d="M1602,1027 L1602,1095.8" fill="none" stroke="#1a1714" stroke-width="2" />
<path d="M1602,1028 L1707,1041" fill="none" stroke="#1a1714" stroke-width="1.6" />
<path d="M1602,1095 L1707,1082" fill="none" stroke="#1a1714" stroke-width="1.6" />
<path d="M2109,1027 L2109,1095.8" fill="none" stroke="#1a1714" stroke-width="2" />
<path d="M2109,1028 L2003,1040" fill="none" stroke="#1a1714" stroke-width="1.6" />
<path d="M2109,1095 L2003,1083" fill="none" stroke="#1a1714" stroke-width="1.6" />
<path d="M1393.7,1147.4 L1393.7,1216.5" fill="none" stroke="#1a1714" stroke-width="2" />
<path d="M1393.7,1148.5 L1716,1169" fill="none" stroke="#1a1714" stroke-width="1.6" />
<path d="M1393.7,1215.5 L1714,1193" fill="none" stroke="#1a1714" stroke-width="1.6" />
<path d="M2373.7,1148 L2373.7,1216.5" fill="none" stroke="#1a1714" stroke-width="2" />
<path d="M2373.7,1149 L1996,1172" fill="none" stroke="#1a1714" stroke-width="1.6" />
<path d="M2373.7,1215.5 L1994.7,1190" fill="none" stroke="#1a1714" stroke-width="1.6" />
<path d="M2505.8,868 L2505.8,1255 L2572.4,1510" fill="none" stroke="#1a1714" stroke-width="1.8" stroke-dasharray="11,8"/>
<path d="M2539.5,868 L2539.5,1255 L2608,1495" fill="none" stroke="#1a1714" stroke-width="1.8" stroke-dasharray="11,8"/>
<path d="M2572.4,1510.5 L2575,1504 L2606.6,1493.4 L2613,1497.4" fill="none" stroke="#1a1714" stroke-width="1.6" />
<rect x="822.6" y="1035.5" width="370" height="46.5" fill="#fff200" stroke="#55534a" stroke-width="1.2" />
<text x="897.5" y="1070" font-size="33.6" fill="#000" >Richtung Bamberg</text>
<path d="M882,1059.7 L854.9,1059.7" fill="none" stroke="#000" stroke-width="3.8" />
<polygon points="837.4,1059.7 856.9,1049.7 856.9,1069.7" fill="#000" stroke="none" stroke-width="0" />
<rect x="2899.2" y="1051.6" width="359.5" height="46.6" fill="#fff200" stroke="#55534a" stroke-width="1.2" />
<text x="2911" y="1086.6" font-size="33.6" fill="#000" >Richtung Nürnberg</text>
<path d="M3206.6,1076.2 L3233,1076.2" fill="none" stroke="#000" stroke-width="3.8" />
<polygon points="3251.5,1076.2 3231,1086.2 3231,1066.2" fill="#000" stroke="none" stroke-width="0" />
<text x="1204" y="969.7" font-size="24.4" fill="#000" >Gleis 1</text>
<text x="1204" y="1171.6" font-size="24.4" fill="#000" >Gleis 4</text>
<text x="1379.5" y="1051.6" font-size="24.4" fill="#000" >Gleis 2</text>
<text x="1379.5" y="1092.4" font-size="24.4" fill="#000" >Gleis 3</text>
<rect x="1119.5" y="887.4" width="220.5" height="22.3" fill="#dededc" stroke="#1a1714" stroke-width="2" />
<path d="M1119.5,887.4 L1340,909.7" fill="none" stroke="#1a1714" stroke-width="1.5" />
<path d="M1340,887.4 L1119.5,909.7" fill="none" stroke="#1a1714" stroke-width="1.5" />
<rect x="1329.5" y="925.5" width="74.3" height="28.5" fill="#dededc" stroke="#1a1714" stroke-width="2" />
<path d="M1329.5,925.5 L1403.8,954" fill="none" stroke="#1a1714" stroke-width="1.5" />
<path d="M1403.8,925.5 L1329.5,954" fill="none" stroke="#1a1714" stroke-width="1.5" />
<rect x="2423.4" y="927.4" width="75.3" height="29.4" fill="#dededc" stroke="#1a1714" stroke-width="2" />
<path d="M2423.4,927.4 L2498.7,956.8" fill="none" stroke="#1a1714" stroke-width="1.5" />
<path d="M2498.7,927.4 L2423.4,956.8" fill="none" stroke="#1a1714" stroke-width="1.5" />
<path d="M1500,866.3 L1500,886" fill="none" stroke="#1a1714" stroke-width="1.8" />
<path d="M1489.2,878.3 L1510.8,878.3" fill="none" stroke="#1a1714" stroke-width="1.8" />
<path d="M1489.2,874.3 L1489.2,882.3" fill="none" stroke="#1a1714" stroke-width="1.8" />
<path d="M1510.8,874.3 L1510.8,882.3" fill="none" stroke="#1a1714" stroke-width="1.8" />
<polygon points="1500,903.3 1489.2,884 1510.8,884" fill="#000" stroke="none" stroke-width="0" />
<rect x="2395.8" y="899.7" width="27.6" height="12.3" fill="none" stroke="#1a1714" stroke-width="1.8" />
<path d="M2409,895 L2409,906" fill="none" stroke="#1a1714" stroke-width="1.8" />
<polygon points="2409,924 2399,905.5 2419,905.5" fill="#000" stroke="none" stroke-width="0" />
<path d="M814,1250 L1372,1250" stroke="#c3c3c1" stroke-width="31.7" stroke-linecap="round" fill="none"/>
<g fill="#c3c3c1"><circle cx="818.9" cy="1239.7" r="12.8"/><circle cx="842.9" cy="1242" r="15.8"/><circle cx="853.5" cy="1261.4" r="11.6"/><circle cx="879.5" cy="1239.2" r="14.2"/><circle cx="886.7" cy="1259.8" r="12.4"/><circle cx="904.6" cy="1262" r="11.4"/><circle cx="915.4" cy="1240.8" r="13.5"/><circle cx="936" cy="1238.6" r="13.8"/><circle cx="945.7" cy="1263" r="12.2"/><circle cx="967.2" cy="1239.7" r="15.1"/><circle cx="980.9" cy="1261.7" r="12.4"/><circle cx="996.4" cy="1236.8" r="11.2"/><circle cx="1022" cy="1263.4" r="13"/><circle cx="1035.2" cy="1237.1" r="12.3"/><circle cx="1052.8" cy="1260.7" r="13.9"/><circle cx="1099.4" cy="1258.7" r="14.6"/><circle cx="1129.1" cy="1262.2" r="12.2"/><circle cx="1151.3" cy="1262.5" r="12.6"/><circle cx="1163.7" cy="1237.5" r="10.6"/><circle cx="1197.1" cy="1263.5" r="11"/><circle cx="1242.1" cy="1258.4" r="15.5"/><circle cx="1256.6" cy="1235.8" r="11.3"/><circle cx="1268.3" cy="1241.3" r="14.4"/><circle cx="1294.7" cy="1263.9" r="10.6"/><circle cx="1306.6" cy="1236.5" r="12.3"/><circle cx="1332.6" cy="1237.1" r="13.2"/></g>
<path d="M1382,1262 L1382,1350" stroke="#c3c3c1" stroke-width="12.5" stroke-linecap="round" fill="none"/>
<g fill="#c3c3c1"><circle cx="1378.2" cy="1270.4" r="5.1"/><circle cx="1385.6" cy="1279.6" r="6.4"/><circle cx="1379" cy="1290" r="4.9"/><circle cx="1386.9" cy="1298.1" r="4.3"/><circle cx="1375.7" cy="1307.8" r="5"/><circle cx="1378.3" cy="1307.8" r="6.4"/><circle cx="1385.9" cy="1315.5" r="4"/><circle cx="1385.9" cy="1325" r="5.4"/><circle cx="1385.6" cy="1337.4" r="5.9"/><circle cx="1375.7" cy="1346.9" r="5.4"/><circle cx="1387.4" cy="1358.2" r="4.2"/></g>
<path d="M1382,1350 L1600,1350" stroke="#c3c3c1" stroke-width="13.2" stroke-linecap="round" fill="none"/>
<g fill="#c3c3c1"><circle cx="1393.8" cy="1344.5" r="6.3"/><circle cx="1405.3" cy="1353.8" r="5.3"/><circle cx="1417.2" cy="1345.5" r="4.6"/><circle cx="1419.2" cy="1353.6" r="6.7"/><circle cx="1426.3" cy="1345.7" r="4.5"/><circle cx="1438.1" cy="1344.3" r="5.6"/><circle cx="1448.1" cy="1344.8" r="6.6"/><circle cx="1462.3" cy="1344.2" r="5.4"/><circle cx="1472" cy="1355" r="5.9"/><circle cx="1472.3" cy="1345.4" r="4.8"/><circle cx="1478.7" cy="1355.4" r="5.8"/><circle cx="1492.1" cy="1356.1" r="4.8"/><circle cx="1498.1" cy="1344.7" r="5.6"/><circle cx="1502.6" cy="1346.6" r="6.4"/><circle cx="1513.4" cy="1354.4" r="4.6"/><circle cx="1516.2" cy="1343" r="4.5"/><circle cx="1532.5" cy="1355.7" r="6.4"/><circle cx="1546.2" cy="1344.3" r="4.3"/><circle cx="1548.2" cy="1344.2" r="4.8"/><circle cx="1563.3" cy="1354.8" r="6"/><circle cx="1568.9" cy="1344" r="5.6"/><circle cx="1572.8" cy="1344.7" r="5.6"/><circle cx="1591.8" cy="1357.2" r="5.2"/></g>
<path d="M1598,1350 L1598,1492" stroke="#c3c3c1" stroke-width="12.5" stroke-linecap="round" fill="none"/>
<g fill="#c3c3c1"><circle cx="1594" cy="1354.2" r="5.3"/><circle cx="1592.7" cy="1371.9" r="6.3"/><circle cx="1602.5" cy="1380" r="4.7"/><circle cx="1591.5" cy="1387.4" r="4.3"/><circle cx="1602.4" cy="1405.3" r="6.3"/><circle cx="1594.2" cy="1417.8" r="4.3"/><circle cx="1591.7" cy="1414.9" r="4.6"/><circle cx="1604.3" cy="1424.1" r="5.1"/><circle cx="1600.7" cy="1427.2" r="5.8"/><circle cx="1603.3" cy="1440.3" r="5.1"/><circle cx="1595.7" cy="1447.6" r="5.6"/><circle cx="1601.9" cy="1458" r="4.8"/><circle cx="1603.4" cy="1469.4" r="6"/><circle cx="1590.8" cy="1487.8" r="4.5"/></g>
<path d="M1598,1493 L1770,1493" stroke="#c3c3c1" stroke-width="13.9" stroke-linecap="round" fill="none"/>
<g fill="#c3c3c1"><circle cx="1599.3" cy="1489.5" r="6.6"/><circle cx="1611.9" cy="1486.9" r="6.2"/><circle cx="1625.5" cy="1495.8" r="6"/><circle cx="1625.3" cy="1496.5" r="7"/><circle cx="1631.4" cy="1488.9" r="5.3"/><circle cx="1635.3" cy="1488.3" r="7"/><circle cx="1647.1" cy="1497.2" r="5.9"/><circle cx="1652.3" cy="1487.7" r="4.2"/><circle cx="1662.9" cy="1488.6" r="5.9"/><circle cx="1674.5" cy="1498.5" r="5.6"/><circle cx="1682.7" cy="1499.6" r="6.4"/><circle cx="1694" cy="1487.6" r="5.9"/><circle cx="1696.1" cy="1490.2" r="6.7"/><circle cx="1715.7" cy="1497.8" r="5"/><circle cx="1735.2" cy="1498.8" r="6.1"/><circle cx="1740.3" cy="1488" r="4.6"/><circle cx="1748.5" cy="1500.6" r="5.2"/><circle cx="1757.3" cy="1489.4" r="4.9"/><circle cx="1763.7" cy="1486" r="5.2"/><circle cx="1774.6" cy="1496.2" r="5.9"/></g>
<path d="M1503,1249 L1797,1249" stroke="#c3c3c1" stroke-width="30.4" stroke-linecap="round" fill="none"/>
<g fill="#c3c3c1"><circle cx="1512.4" cy="1238.5" r="13.4"/><circle cx="1549.8" cy="1259.2" r="14.3"/><circle cx="1556.2" cy="1236" r="10.5"/><circle cx="1588.6" cy="1259.7" r="14.2"/><circle cx="1601.9" cy="1237.6" r="11.6"/><circle cx="1630.2" cy="1237.4" r="10.6"/><circle cx="1675.2" cy="1258.2" r="14.7"/><circle cx="1711.7" cy="1239.8" r="12.8"/><circle cx="1751.3" cy="1240.5" r="13.8"/><circle cx="1778.4" cy="1241" r="14.8"/></g>
<path d="M1945,1249 L2346,1249" stroke="#c3c3c1" stroke-width="31.7" stroke-linecap="round" fill="none"/>
<g fill="#c3c3c1"><circle cx="1954.7" cy="1259.9" r="13.4"/><circle cx="1965.9" cy="1236.8" r="12.9"/><circle cx="1978.4" cy="1236.2" r="12.5"/><circle cx="2016.4" cy="1236.4" r="10.6"/><circle cx="2028.1" cy="1260.9" r="12.8"/><circle cx="2051.6" cy="1261.4" r="13.2"/><circle cx="2087.7" cy="1259.1" r="16.2"/><circle cx="2102.4" cy="1235.5" r="11.8"/><circle cx="2116.4" cy="1238.6" r="15.8"/><circle cx="2124" cy="1264" r="10"/><circle cx="2153.9" cy="1258.8" r="15.7"/><circle cx="2159.2" cy="1239" r="13.9"/><circle cx="2188.5" cy="1261.6" r="12.9"/><circle cx="2196.8" cy="1237.9" r="11.4"/><circle cx="2219.1" cy="1264" r="11.3"/><circle cx="2264.5" cy="1260.2" r="12"/><circle cx="2278.7" cy="1240.5" r="13.8"/><circle cx="2308.6" cy="1263.8" r="11.1"/><circle cx="2316.3" cy="1240.1" r="14.1"/><circle cx="2335.2" cy="1258.4" r="15.1"/><circle cx="2349" cy="1238.7" r="13.3"/></g>
<path d="M812,1480 L1588,1480" stroke="#c3c3c1" stroke-width="29" stroke-linecap="round" fill="none"/>
<g fill="#c3c3c1"><circle cx="813.2" cy="1491.6" r="12.1"/><circle cx="839.9" cy="1471.6" r="14.5"/><circle cx="847.5" cy="1490.5" r="10.6"/><circle cx="875.5" cy="1488.9" r="13.1"/><circle cx="904.9" cy="1471.8" r="13.1"/><circle cx="944.3" cy="1469.9" r="12.1"/><circle cx="974.5" cy="1469.4" r="11"/><circle cx="1002" cy="1491.9" r="11"/><circle cx="1039.9" cy="1491.9" r="11.7"/><circle cx="1049.9" cy="1467" r="10"/><circle cx="1068.5" cy="1466" r="10.2"/><circle cx="1076.6" cy="1490.1" r="11.6"/><circle cx="1111.7" cy="1466.4" r="9.9"/><circle cx="1142.9" cy="1492.7" r="9.7"/><circle cx="1182.7" cy="1487.1" r="14.8"/><circle cx="1194.5" cy="1467.4" r="9.5"/><circle cx="1220" cy="1493.6" r="10.1"/><circle cx="1225.4" cy="1467.1" r="9.4"/><circle cx="1263.1" cy="1490.1" r="12.5"/><circle cx="1285.3" cy="1490.6" r="12.4"/><circle cx="1290.4" cy="1467.4" r="9.8"/><circle cx="1316.2" cy="1491" r="13.1"/><circle cx="1330.8" cy="1468.8" r="9.8"/><circle cx="1343.5" cy="1466.6" r="10.7"/><circle cx="1365.2" cy="1469" r="13.2"/><circle cx="1374.4" cy="1492.4" r="9"/><circle cx="1389.8" cy="1489.2" r="13.6"/><circle cx="1403" cy="1471.8" r="13.1"/><circle cx="1415" cy="1492.9" r="10.3"/><circle cx="1456.5" cy="1491.4" r="11.9"/><circle cx="1479.8" cy="1491.1" r="10"/><circle cx="1509.7" cy="1468.1" r="10.7"/><circle cx="1537.1" cy="1470.7" r="14.9"/><circle cx="1549.5" cy="1494.1" r="9.6"/><circle cx="1572.9" cy="1490.3" r="14.1"/><circle cx="1578.8" cy="1469" r="9.3"/></g>
<path d="M922,1629 L1765,1629" stroke="#c3c3c1" stroke-width="28.4" stroke-linecap="round" fill="none"/>
<g fill="#c3c3c1"><circle cx="930.4" cy="1617.2" r="11.4"/><circle cx="942.5" cy="1636.8" r="12.1"/><circle cx="962.6" cy="1640.3" r="10.5"/><circle cx="982.6" cy="1640.9" r="10.7"/><circle cx="995.7" cy="1617.9" r="10.2"/><circle cx="1006.6" cy="1621.4" r="14.1"/><circle cx="1014.2" cy="1638.2" r="12.7"/><circle cx="1033.4" cy="1641" r="11"/><circle cx="1071.8" cy="1617.3" r="9.6"/><circle cx="1080.7" cy="1639.6" r="12.7"/><circle cx="1101.4" cy="1641.1" r="10.1"/><circle cx="1113.3" cy="1620.9" r="12.6"/><circle cx="1126.3" cy="1640.4" r="11.8"/><circle cx="1157.7" cy="1637" r="13.3"/><circle cx="1166" cy="1616" r="8.7"/><circle cx="1198" cy="1619" r="10.8"/><circle cx="1207.5" cy="1640.6" r="10.7"/><circle cx="1227.2" cy="1618.9" r="13.3"/><circle cx="1249.4" cy="1640.5" r="11"/><circle cx="1256.9" cy="1620.5" r="11.8"/><circle cx="1272.4" cy="1618.3" r="11.1"/><circle cx="1303.7" cy="1621" r="12.8"/><circle cx="1317.6" cy="1639.8" r="8.8"/><circle cx="1333.7" cy="1640.9" r="9.7"/><circle cx="1344.5" cy="1615" r="9.4"/><circle cx="1361.8" cy="1619.4" r="11.8"/><circle cx="1403.6" cy="1618.8" r="12.7"/><circle cx="1409" cy="1641.1" r="8.8"/><circle cx="1423.8" cy="1619.3" r="13.7"/><circle cx="1429.6" cy="1640.8" r="10.2"/><circle cx="1454.9" cy="1640.1" r="9.8"/><circle cx="1460.8" cy="1617.9" r="11"/><circle cx="1490.7" cy="1637.3" r="14.6"/><circle cx="1504.5" cy="1615.3" r="8.8"/><circle cx="1510.5" cy="1638.1" r="12.8"/><circle cx="1517" cy="1620.4" r="12.7"/><circle cx="1532" cy="1638.2" r="11.8"/><circle cx="1546.1" cy="1617.9" r="11"/><circle cx="1566" cy="1636.8" r="13.3"/><circle cx="1571.7" cy="1618.1" r="9.3"/><circle cx="1603.2" cy="1616.6" r="11"/><circle cx="1614.3" cy="1637.2" r="12.5"/><circle cx="1624.6" cy="1618.3" r="12.8"/><circle cx="1658.5" cy="1621.6" r="13.7"/><circle cx="1667.3" cy="1640.3" r="10.3"/><circle cx="1683.7" cy="1616.2" r="9.7"/><circle cx="1703.9" cy="1641.5" r="10.1"/><circle cx="1738.1" cy="1637.8" r="12.8"/><circle cx="1748.1" cy="1618.3" r="10.3"/><circle cx="1757.5" cy="1639.2" r="11.9"/></g>
<path d="M957,1217 V1246.6M1000.9,1217 V1246.6M1044.7,1217 V1246.6M1088.5,1217 V1246.6M1132.4,1217 V1246.6M1176.2,1217 V1246.6M1220.1,1217 V1246.6M1264,1217 V1246.6M1307.8,1217 V1246.6M1351.7,1217 V1246.6M1527.1,1217 V1246.6M1570.9,1217 V1246.6M1614.8,1217 V1246.6M1658.6,1217 V1246.6M1702.5,1217 V1246.6M1746.3,1217 V1246.6M1790.2,1217 V1246.6" fill="none" stroke="#1a1714" stroke-width="1.8" />
<path d="M979.5,1217 V1281.3M1023.4,1217 V1281.3M1067.2,1217 V1281.3M1111,1217 V1281.3M1154.9,1217 V1281.3M1198.8,1217 V1281.3M1242.6,1217 V1281.3M1286.5,1217 V1281.3M1330.3,1217 V1281.3M1374.2,1217 V1281.3M1505.7,1217 V1281.3M1549.6,1217 V1281.3M1593.4,1217 V1281.3M1637.2,1217 V1281.3M1681.1,1217 V1281.3M1725,1217 V1281.3M1768.8,1217 V1281.3" fill="none" stroke="#1a1714" stroke-width="1.8" />
<path d="M1925,1217 V1246M1969,1217 V1246M2013,1217 V1246M2057,1217 V1246M2101,1217 V1246M2145,1217 V1246M2189,1217 V1246M2233,1217 V1246M2277,1217 V1246M2321,1217 V1246" fill="none" stroke="#1a1714" stroke-width="1.8" />
<path d="M1947.4,1217 V1281.3M1991.4,1217 V1281.3M2035.4,1217 V1281.3M2079.4,1217 V1281.3M2123.4,1217 V1281.3M2167.4,1217 V1281.3M2211.4,1217 V1281.3M2255.4,1217 V1281.3M2299.4,1217 V1281.3M2343.4,1217 V1281.3" fill="none" stroke="#1a1714" stroke-width="1.8" />
<path d="M807,1448 V1510.8M850.6,1448 V1510.8M894.2,1448 V1510.8M937.8,1448 V1510.8M981.4,1448 V1510.8M1025,1448 V1510.8M1068.6,1448 V1510.8M1112.2,1448 V1510.8M1155.8,1448 V1510.8M1199.4,1448 V1510.8M1243,1448 V1510.8M1286.6,1448 V1510.8M1330.2,1448 V1510.8M1373.8,1448 V1510.8M1417.4,1448 V1510.8M1461,1448 V1510.8M1504.6,1448 V1510.8M1548.2,1448 V1510.8M1591.8,1448 V1510.8" fill="none" stroke="#1a1714" stroke-width="1.8" />
<path d="M829,1482.6 V1510.8M872.6,1482.6 V1510.8M916.2,1482.6 V1510.8M959.8,1482.6 V1510.8M1003.4,1482.6 V1510.8M1047,1482.6 V1510.8M1090.6,1482.6 V1510.8M1134.2,1482.6 V1510.8M1177.8,1482.6 V1510.8M1221.4,1482.6 V1510.8M1265,1482.6 V1510.8M1308.6,1482.6 V1510.8M1352.2,1482.6 V1510.8M1395.8,1482.6 V1510.8M1439.4,1482.6 V1510.8M1483,1482.6 V1510.8M1526.6,1482.6 V1510.8M1570.2,1482.6 V1510.8" fill="none" stroke="#1a1714" stroke-width="1.8" />
<path d="M1612.4,1482.6 V1510.8M1634.2,1482.6 V1510.8M1656,1482.6 V1510.8M1677.8,1482.6 V1510.8M1699.6,1482.6 V1510.8M1721.4,1482.6 V1510.8M1743.2,1482.6 V1510.8M1765,1482.6 V1510.8" fill="none" stroke="#1a1714" stroke-width="1.8" />
<path d="M807,1605.8 V1645.8M850.6,1605.8 V1645.8M894.2,1605.8 V1645.8M937.8,1605.8 V1645.8M981.4,1605.8 V1645.8M1025,1605.8 V1645.8M1068.6,1605.8 V1645.8M1112.2,1605.8 V1645.8M1155.8,1605.8 V1645.8M1199.4,1605.8 V1645.8M1243,1605.8 V1645.8M1286.6,1605.8 V1645.8" fill="none" stroke="#1a1714" stroke-width="1.8" />
<path d="M1330.2,1605.8 V1669M1373.8,1605.8 V1669M1417.4,1605.8 V1669M1461,1605.8 V1669M1504.6,1605.8 V1669M1548.2,1605.8 V1669M1591.8,1605.8 V1669M1635.4,1605.8 V1669M1679,1605.8 V1669M1722.6,1605.8 V1669M1766.2,1605.8 V1669" fill="none" stroke="#1a1714" stroke-width="1.8" />
<path d="M829,1605.8 V1634M872.6,1605.8 V1634M916.2,1605.8 V1634M959.8,1605.8 V1634M1003.4,1605.8 V1634M1047,1605.8 V1634M1090.6,1605.8 V1634M1134.2,1605.8 V1634M1177.8,1605.8 V1634M1221.4,1605.8 V1634M1265,1605.8 V1634M1308.6,1605.8 V1634M1352.2,1605.8 V1634M1395.8,1605.8 V1634M1439.4,1605.8 V1634M1483,1605.8 V1634M1526.6,1605.8 V1634M1570.2,1605.8 V1634M1613.8,1605.8 V1634M1657.4,1605.8 V1634M1701,1605.8 V1634M1744.6,1605.8 V1634" fill="none" stroke="#1a1714" stroke-width="1.8" />
<path d="M799,1518.8 L1801,1518.8" fill="none" stroke="#1a1714" stroke-width="2" />
<path d="M1790.5,1498.4 L1803.7,1515.5 L2234,1515.5 L2252,1497.4" fill="none" stroke="#1a1714" stroke-width="2" />
<path d="M1813,1519 L2213,1519" fill="none" stroke="#1a1714" stroke-width="2" />
<path d="M799,1601.8 L2313.7,1601.8" fill="none" stroke="#1a1714" stroke-width="2" />
<path d="M1803.7,1605.3 L2234,1605.3 L2248.7,1620" fill="none" stroke="#1a1714" stroke-width="2" />
<path d="M1790,1622.4 L1803.7,1605.3" fill="none" stroke="#1a1714" stroke-width="2" />
<path d="M1813,1519 L1813,1601" fill="none" stroke="#1a1714" stroke-width="2" stroke-dasharray="11,8"/>
<path d="M1409,1216.5 V1290 Q1409,1336.6 1459,1336.6 H1649.7 V1345.3 H1686.6 V1336.6 H1728.7 V1345.3 H1765.5 V1336.6 H1813" fill="none" stroke="#1a1714" stroke-width="2" />
<path d="M1467.6,1216.5 V1228 Q1467.6,1238 1455,1243 Q1440,1248 1440,1262 V1285 Q1440,1306.6 1461,1306.6 H1813" fill="none" stroke="#1a1714" stroke-width="2" />
<path d="M1813,1228 L1813,1306.6" fill="none" stroke="#1a1714" stroke-width="2" />
<path d="M1793,1240 L1809,1229 L1813,1229" fill="none" stroke="#1a1714" stroke-width="2" />
<path d="M1588,1306.6 L1516.8,1320.8 L1588,1336" fill="none" stroke="#1a1714" stroke-width="2" />
<path d="M1813,1306.6 L1738,1320.8 L1813,1336" fill="none" stroke="#1a1714" stroke-width="2" />
<polygon points="1668,1324 1657.5,1343.4 1678.5,1343.4" fill="#000" stroke="none" stroke-width="0" />
<path d="M1668,1340 L1668,1353.7" fill="none" stroke="#1a1714" stroke-width="2" />
<polygon points="1747,1324 1736.5,1343.4 1757.5,1343.4" fill="#000" stroke="none" stroke-width="0" />
<path d="M1747,1340 L1747,1353.7" fill="none" stroke="#1a1714" stroke-width="2" />
<rect x="1613.4" y="1347" width="199.6" height="125" fill="#dededc" stroke="#1a1714" stroke-width="2.2" />
<path d="M1613.4,1347 L1813,1472" fill="none" stroke="#1a1714" stroke-width="1.8" />
<path d="M1813,1347 L1613.4,1472" fill="none" stroke="#1a1714" stroke-width="1.8" />
<path d="M1613.4,1472 L1613.4,1481.3 L1813,1481.3 L1813,1516" fill="none" stroke="#1a1714" stroke-width="2" />
<path d="M1813,1446.6 L1855.5,1295.3 L1897,1445.8 L2000,1445.8" fill="none" stroke="#1a1714" stroke-width="2" />
<path d="M1898,1284 L1898,1445.8" fill="none" stroke="#1a1714" stroke-width="2" />
<path d="M2000,1445.8 H2084 C2170,1445.8 2230,1436 2290,1418 L2500,1357" fill="none" stroke="#1a1714" stroke-width="2" />
<path d="M2213,1519 V1497 Q2213,1488 2222,1485 L2263,1470 L2500,1398" fill="none" stroke="#1a1714" stroke-width="2" />
<path d="M2250,1430 L2376,1414.5 L2263,1470" fill="none" stroke="#1a1714" stroke-width="2" />
<rect x="2068.4" y="1519" width="144.6" height="82" fill="none" stroke="#1a1714" stroke-width="2" />
<path d="M2087.5,1524.5 L2092,1520 L2096.5,1524.5" fill="none" stroke="#1a1714" stroke-width="1.4" />
<path d="M2087.5,1595.5 L2092,1600 L2096.5,1595.5" fill="none" stroke="#1a1714" stroke-width="1.4" />
<path d="M2135,1524.5 L2139.5,1520 L2144,1524.5" fill="none" stroke="#1a1714" stroke-width="1.4" />
<path d="M2135,1595.5 L2139.5,1600 L2144,1595.5" fill="none" stroke="#1a1714" stroke-width="1.4" />
<path d="M2182.5,1524.5 L2187,1520 L2191.5,1524.5" fill="none" stroke="#1a1714" stroke-width="1.4" />
<path d="M2182.5,1595.5 L2187,1600 L2191.5,1595.5" fill="none" stroke="#1a1714" stroke-width="1.4" />
<path d="M2073.5,1536.5 L2069,1541 L2073.5,1545.5" fill="none" stroke="#1a1714" stroke-width="1.4" />
<path d="M2207.5,1536.5 L2212,1541 L2207.5,1545.5" fill="none" stroke="#1a1714" stroke-width="1.4" />
<path d="M2073.5,1583.5 L2069,1588 L2073.5,1592.5" fill="none" stroke="#1a1714" stroke-width="1.4" />
<path d="M2207.5,1583.5 L2212,1588 L2207.5,1592.5" fill="none" stroke="#1a1714" stroke-width="1.4" />
<path d="M2213,1519 H2321 C2350,1519 2372,1528 2390,1536 Q2398,1540 2405,1532 L2500,1444" fill="none" stroke="#1a1714" stroke-width="2" />
<path d="M2400,1386.8 L2515,1352.6 V1313.2 H2451.8 V1258 L2425,1237" fill="none" stroke="#1a1714" stroke-width="2" />
<path d="M2400,1427.6 L2581.6,1373 L2765.8,1373" fill="none" stroke="#1a1714" stroke-width="2" />
<path d="M2801,1373 L3161,1373" fill="none" stroke="#1a1714" stroke-width="2" />
<path d="M2400,1538 L2405,1532" fill="none" stroke="#1a1714" stroke-width="2" />
<path d="M2500,1444 C2530,1416 2570,1380.8 2650,1380.8 H2765.8" fill="none" stroke="#1a1714" stroke-width="2" />
<path d="M2801,1380.8 L3161,1380.8" fill="none" stroke="#1a1714" stroke-width="2" />
<path d="M2765.8,1371.5 L2801,1371.5" fill="none" stroke="#e3e3e1" stroke-width="1.4" />
<path d="M2481.5,1591.5 C2500,1560 2540,1500 2600,1478 C2630,1466 2650,1461.3 2680,1461.3 H3161" fill="none" stroke="#1a1714" stroke-width="2" />
<path d="M2481.5,1591.5 L2790,1846 C2880,1920 2960,1950 3050,1953.5" fill="none" stroke="#1a1714" stroke-width="2" />
<text x="2827.5" y="1433" font-size="33.2" fill="#000" >Friedrich-List-Straße</text>
<rect x="799" y="1646.6" width="519.4" height="308.7" fill="#dededc" />
<path d="M799,1646.6 L1318.4,1646.6 L1318.4,1955.3 L799,1955.3" fill="none" stroke="#9b9b99" stroke-width="2.5" />
<path d="M799,1965.8 L1179.5,1965.8 L1179.5,1955.3" fill="none" stroke="#1a1714" stroke-width="2" />
<path d="M1247.4,1955.3 L1247.4,1965.8 L1388,1965.8" fill="none" stroke="#1a1714" stroke-width="2" />
<polygon points="1193.9,1961 1208.7,1961 1201.3,1969.5" fill="#000" stroke="none" stroke-width="0" />
<polygon points="1221.3,1969.5 1236.1,1969.5 1228.7,1961" fill="#000" stroke="none" stroke-width="0" />
<path d="M1318.4,1816.3 L1337.4,1816.3 L1337.4,1727.4 L1428.7,1672 L1773.4,1672 L1813,1642.6 L1813,1601.8" fill="none" stroke="#1a1714" stroke-width="2" />
<path d="M1318.4,1838 L1337.4,1838 L1337.4,1965.8" fill="none" stroke="#1a1714" stroke-width="2" />
<path d="M1388,1965.8 V1740 L1426.8,1715.8 H1668 Q1696,1716 1701.5,1740 L1747,1965 H1867.4 V1703" fill="none" stroke="#1a1714" stroke-width="2" />
<path d="M1455,1757.7 L1477.4,1862.1 A13.2,9.9 0 0 0 1503.7,1862.1 L1481.3,1757.7 A13.2,13.2 0 0 0 1455,1757.7 Z" fill="#fff" stroke="#1a1714" stroke-width="2" />
<path d="M1503.7,1757.7 L1526.1,1862.1 A13.2,9.9 0 0 0 1552.4,1862.1 L1530,1757.7 A13.2,13.2 0 0 0 1503.7,1757.7 Z" fill="#fff" stroke="#1a1714" stroke-width="2" />
<path d="M1553,1757.7 L1575.4,1862.1 A13.2,9.9 0 0 0 1601.7,1862.1 L1579.3,1757.7 A13.2,13.2 0 0 0 1553,1757.7 Z" fill="#fff" stroke="#1a1714" stroke-width="2" />
<path d="M1601.8,1757.7 L1624.2,1862.1 A13.2,9.9 0 0 0 1650.5,1862.1 L1628.1,1757.7 A13.2,13.2 0 0 0 1601.8,1757.7 Z" fill="#fff" stroke="#1a1714" stroke-width="2" />
<path d="M1651,1757.7 L1673.4,1862.1 A13.2,9.9 0 0 0 1699.7,1862.1 L1677.3,1757.7 A13.2,13.2 0 0 0 1651,1757.7 Z" fill="#fff" stroke="#1a1714" stroke-width="2" />
<path d="M1416.8,1808 Q1417,1795.5 1431,1795 Q1444,1795 1446,1806 L1457.5,1856 Q1460,1869 1445,1870 H1430 Q1417,1869.5 1416.8,1858 Z" fill="#fff" stroke="#1a1714" stroke-width="2" />
<polygon points="1425.3,1808.4 1441.8,1805 1450.5,1847.4 1434,1851" fill="#dededc" stroke="#1a1714" stroke-width="1.5" />
<path d="M1425.3,1808.4 L1450.5,1847.4" fill="none" stroke="#1a1714" stroke-width="1.2" />
<path d="M1441.8,1805 L1434,1851" fill="none" stroke="#1a1714" stroke-width="1.2" />
<polygon points="1613,1762 1626,1759.7 1634.5,1802.6 1617.6,1806" fill="#dededc" stroke="#1a1714" stroke-width="1.5" />
<path d="M1613,1762 L1634.5,1802.6" fill="none" stroke="#1a1714" stroke-width="1.2" />
<path d="M1626,1759.7 L1617.6,1806" fill="none" stroke="#1a1714" stroke-width="1.2" />
<polygon points="1662,1762 1675,1759.7 1683.5,1802.6 1666.6,1806" fill="#dededc" stroke="#1a1714" stroke-width="1.5" />
<path d="M1662,1762 L1683.5,1802.6" fill="none" stroke="#1a1714" stroke-width="1.2" />
<path d="M1675,1759.7 L1666.6,1806" fill="none" stroke="#1a1714" stroke-width="1.2" />
<polygon points="1719,1700 1735,1696 1743.7,1738.7 1727.4,1742" fill="#dededc" stroke="#1a1714" stroke-width="1.5" />
<path d="M1719,1700 L1743.7,1738.7" fill="none" stroke="#1a1714" stroke-width="1.2" />
<path d="M1735,1696 L1727.4,1742" fill="none" stroke="#1a1714" stroke-width="1.2" />
<polygon points="1728.7,1746.6 1745,1742.6 1753.5,1785 1737,1789" fill="#dededc" stroke="#1a1714" stroke-width="1.5" />
<path d="M1728.7,1746.6 L1753.5,1785" fill="none" stroke="#1a1714" stroke-width="1.2" />
<path d="M1745,1742.6 L1737,1789" fill="none" stroke="#1a1714" stroke-width="1.2" />
<rect x="1417.6" y="1913" width="256.6" height="52.8" rx="14" ry="16" fill="#fff" stroke="#1a1714" stroke-width="2"/>
<rect x="1772" y="1721" width="29.8" height="223.5" rx="4" fill="#fff" stroke="#1a1714" stroke-width="2"/>
<rect x="1819.5" y="1988" width="38" height="13.8" rx="4" fill="#fff" stroke="#1a1714" stroke-width="2"/>
<text x="1472.5" y="1904.5" font-size="33.4" fill="#000" >Busbahnhof</text>
<polygon points="1717.4,1848.4 1734,1819.5 1768,1819.5 1784.7,1848.4 1768,1877.4 1734,1877.4" fill="#8f1e7a" stroke="none" stroke-width="0" />
<text x="1751" y="1861.5" font-size="37.5" fill="#fff" font-weight="bold" text-anchor="middle" textLength="49" lengthAdjust="spacingAndGlyphs" >SEV</text>
<rect x="1444" y="1755" width="31.8" height="31.8" fill="#0058a1" />
<text x="1459.9" y="1785.3" font-size="37.5" fill="#fff" font-weight="bold" text-anchor="middle" >6</text>
<rect x="1493" y="1755" width="31.8" height="31.8" fill="#0058a1" />
<text x="1508.9" y="1785.3" font-size="37.5" fill="#fff" font-weight="bold" text-anchor="middle" >5</text>
<rect x="1542.4" y="1755" width="31.8" height="31.8" fill="#0058a1" />
<text x="1558.3" y="1785.3" font-size="37.5" fill="#fff" font-weight="bold" text-anchor="middle" >4</text>
<rect x="1591.3" y="1755" width="31.8" height="31.8" fill="#0058a1" />
<text x="1607.2" y="1785.3" font-size="37.5" fill="#fff" font-weight="bold" text-anchor="middle" >3</text>
<rect x="1640.5" y="1755" width="31.8" height="31.8" fill="#0058a1" />
<text x="1656.4" y="1785.3" font-size="37.5" fill="#fff" font-weight="bold" text-anchor="middle" >2</text>
<rect x="1688.7" y="1755" width="31.8" height="31.8" fill="#0058a1" />
<text x="1704.6" y="1785.3" font-size="37.5" fill="#fff" font-weight="bold" text-anchor="middle" >1</text>
<rect x="1372.6" y="1858.4" width="31.8" height="31.8" fill="#0058a1" />
<text x="1388.5" y="1888.7" font-size="37.5" fill="#fff" font-weight="bold" text-anchor="middle" >7</text>
<path d="M799,2017.4 L1236,2017.4 L1236,2034 L799,2034" fill="none" stroke="#1a1714" stroke-width="2" />
<path d="M1309,2083 L1309,2017.4 L1441.3,2017.4 L1441.3,2034 L1346.8,2034 L1346.8,2083" fill="none" stroke="#1a1714" stroke-width="2" />
<path d="M1495.2,2034 L1495.2,2017.4 L1868.5,2017.4 L1868.5,2083" fill="none" stroke="#1a1714" stroke-width="2" />
<path d="M1495.2,2034 L1772,2034 L1772,2083" fill="none" stroke="#1a1714" stroke-width="2" />
<path d="M1800.7,2083 L1800.7,2034 L1868.5,2034" fill="none" stroke="#1a1714" stroke-width="2" />
<path d="M1966.3,2083 L1966.3,2017.4 L2995.6,2017.4" fill="none" stroke="#1a1714" stroke-width="2" />
<path d="M1966.3,2034 L2995.6,2034" fill="none" stroke="#1a1714" stroke-width="2" />
<text x="1041.5" y="2078.6" font-size="25" fill="#000" >Busparkplatz</text>
<text x="1952" y="2002.6" font-size="33.2" fill="#000" >Parkplatzstraße</text>
<path d="M1870.8,1644.5 L1896.6,1623.4 H2261 C2300,1624 2330,1636 2353,1654.5 L2610.4,1865 V1930.4 H1947.4" fill="none" stroke="#1a1714" stroke-width="2" />
<path d="M1947.4,1930.4 C1948,1950 1953,1965 1965,1965 H2660 C2700,1964 2735,1955 2750,1942 Q2762,1930 2748,1916 L2731,1901 L2359,1624 C2345,1612 2330,1601.8 2313.7,1601.8" fill="none" stroke="#1a1714" stroke-width="2" />
<path d="M1947.4,1666.8 H2263 L2301,1698.5 Q2309,1706 2298,1711.8 H2260 V1689 H1969 V1711.8 H1947.4 Z" fill="none" stroke="#1a1714" stroke-width="2" />
<path d="M1947.4,1746.6 H1969 V1769.7 H2331.6 V1750 Q2345,1749 2353,1756 L2408,1802 Q2416,1810 2403,1814.5 H2365.5 V1791.8 H1969 V1814.5 H1947.4 Z" fill="none" stroke="#1a1714" stroke-width="2" />
<text transform="translate(2555.7,1721.4) rotate(39.5)" font-size="33.2">Münchener Straße</text>
<circle cx="3159.6" cy="1945" r="58.8" fill="#858483" stroke="#1a1714" stroke-width="2.4"/>
<polygon points="3117.3,1907.2 3179.2,1892.6 3156.4,1917 3211.7,1967.5 3189,1992.7 3132,1943.9 3109.1,1968.3" fill="#fff" stroke="#1a1714" stroke-width="1.8" />
<path d="M3179.4,1943.5 L3209.5,1968.2 L3163.2,1963.6 L3189.5,1988.5" fill="none" stroke="#fff" stroke-width="6.4" />
<path d="M3179.4,1943.5 L3209.5,1968.2 L3163.2,1963.6 L3189.5,1988.5" fill="none" stroke="#1a1714" stroke-width="4" />
<path d="M2828,1174.2 L2990.3,1174.2 L2990.3,1269 L2906.6,1269" fill="none" stroke="#1a1714" stroke-width="2" />
<path d="M2828,1202.6 L2990.3,1202.6" fill="none" stroke="#1a1714" stroke-width="2" />
<path d="M2828,1185 L2871,1174.2" fill="none" stroke="#1a1714" stroke-width="1.8" />
<path d="M2828,1193 L2871,1202.6" fill="none" stroke="#1a1714" stroke-width="1.8" />
<path d="M2906.6,1269 Q2895,1269.5 2888,1271.6 L2891,1287.4 L2819,1308.7 L2809,1291.6 Q2798,1296 2798,1314 H3161" fill="none" stroke="#1a1714" stroke-width="2" />
<rect x="2911.3" y="1273.7" width="107.7" height="40.3" fill="#dededc" stroke="#9b9b99" stroke-width="2" />
<rect x="2704" y="1225" width="57.8" height="54.7" fill="#dededc" stroke="#9b9b99" stroke-width="2" />
<path d="M2784.2,1218.7 V1277.6 Q2767,1281 2766.3,1297.4 L2764.5,1314 H2698.7 L2686.8,1308.7 V1294.7" fill="none" stroke="#1a1714" stroke-width="2" />
<rect x="2579.5" y="1218" width="107.3" height="76.7" fill="#dededc" stroke="#1a1714" stroke-width="2.2" />
<path d="M2579.5,1218 L2686.8,1294.7" fill="none" stroke="#1a1714" stroke-width="1.6" />
<path d="M2686.8,1218 L2579.5,1294.7" fill="none" stroke="#1a1714" stroke-width="1.6" />
<rect x="2665" y="1218" width="21.8" height="25.4" fill="none" stroke="#1a1714" stroke-width="2" />
<path d="M2580,1202.6 L2580,1218" fill="none" stroke="#1a1714" stroke-width="1.8" />
<path d="M2588,1202.6 L2588,1218" fill="none" stroke="#1a1714" stroke-width="1.8" />
<path d="M2615.8,1202.6 L2615.8,1218" fill="none" stroke="#1a1714" stroke-width="1.8" />
<path d="M2629,1202.6 L2629,1218" fill="none" stroke="#1a1714" stroke-width="1.8" />
<path d="M2654,1202.6 L2654,1218" fill="none" stroke="#1a1714" stroke-width="1.8" />
<path d="M2664.5,1202.6 L2664.5,1218" fill="none" stroke="#1a1714" stroke-width="1.8" />
<path d="M2588,1210.5 L2615.8,1210.5" fill="none" stroke="#1a1714" stroke-width="1.8" />
<path d="M2629,1210.5 L2654,1210.5" fill="none" stroke="#1a1714" stroke-width="1.8" />
<polygon points="2602,1192.6 2592,1211 2612,1211" fill="#000" stroke="none" stroke-width="0" />
<path d="M2602,1209 L2602,1221" fill="none" stroke="#1a1714" stroke-width="2" />
<polygon points="2642,1192.6 2632,1211 2652,1211" fill="#000" stroke="none" stroke-width="0" />
<path d="M2642,1209 L2642,1221" fill="none" stroke="#1a1714" stroke-width="2" />
<path d="M2579.5,1294.7 L2579.5,1301.3 L2614.5,1301.3 L2614.5,1313.2" fill="none" stroke="#1a1714" stroke-width="2" />
<path d="M2451.8,1258 L2425,1237 M2451.8,1235.5 L2422,1224" fill="none" stroke="#1a1714" stroke-width="1.8" />
<path d="M2451.8,1216.3 L2562.6,1216.3 L2562.6,1313.2 L2543.4,1313.2" fill="none" stroke="#1a1714" stroke-width="2" />
<path d="M2451.8,1216.3 L2451.8,1235.5" fill="none" stroke="#1a1714" stroke-width="2" />
<path d="M2451.8,1235.5 L2451.8,1258" fill="none" stroke="#fff" stroke-width="2" />
<rect x="2543.4" y="1313.2" width="79" height="31.5" fill="#fff" stroke="#1a1714" stroke-width="2" />
<rect x="2557.4" y="1317.6" width="65" height="27.1" fill="#dededc" stroke="#1a1714" stroke-width="1.6" />
<path d="M2570,1317.6 L2570,1344.7" fill="none" stroke="#1a1714" stroke-width="1.4" />
<path d="M2583,1317.6 L2583,1344.7" fill="none" stroke="#1a1714" stroke-width="1.4" />
<path d="M2596,1317.6 L2596,1344.7" fill="none" stroke="#1a1714" stroke-width="1.4" />
<path d="M2609,1317.6 L2609,1344.7" fill="none" stroke="#1a1714" stroke-width="1.4" />
<path d="M2557.4,1317.6 L2622.4,1344.7" fill="none" stroke="#1a1714" stroke-width="1.4" />
<path d="M2622.4,1317.6 L2557.4,1344.7" fill="none" stroke="#1a1714" stroke-width="1.4" />
<path d="M2566,1331 L2590,1331" fill="none" stroke="#000" stroke-width="1.8" />
<polygon points="2606,1331 2588,1339 2588,1323" fill="#000" stroke="none" stroke-width="0" />
<path d="M2425,1223.7 L2452,1236" fill="none" stroke="#1a1714" stroke-width="1.8" />
<use href="#BUS" x="1550" y="212" width="59" height="59" />
<rect x="1613" y="212" width="32.5" height="32.5" fill="#0058a1" />
<text x="1629.8" y="241.9" font-size="36.5" fill="#fff" text-anchor="middle" textLength="23.3" lengthAdjust="spacingAndGlyphs" stroke="#fff" stroke-width="1.1">D</text>
<use href="#BUS" x="1748.7" y="333.4" width="59" height="59" />
<rect x="1811.5" y="333.4" width="32.5" height="32.5" fill="#0058a1" />
<text x="1828.3" y="363.3" font-size="36.5" fill="#fff" text-anchor="middle" textLength="21.6" lengthAdjust="spacingAndGlyphs" stroke="#fff" stroke-width="1.1">B</text>
<use href="#BUS" x="1895" y="411.4" width="59" height="59" />
<rect x="1958" y="411.4" width="32.5" height="32.5" fill="#0058a1" />
<text x="1974.8" y="441.3" font-size="36.5" fill="#fff" text-anchor="middle" textLength="21.6" lengthAdjust="spacingAndGlyphs" stroke="#fff" stroke-width="1.1">A</text>
<use href="#BUS" x="2123.5" y="195" width="59" height="59" />
<rect x="2185.8" y="195" width="32.5" height="32.5" fill="#0058a1" />
<text x="2202.7" y="224.9" font-size="36.5" fill="#fff" text-anchor="middle" textLength="23.3" lengthAdjust="spacingAndGlyphs" stroke="#fff" stroke-width="1.1">C</text>
<use href="#BUS" x="1723.4" y="1755" width="59" height="59" />
<use href="#taxi" x="1564" y="505" width="59" height="59" />
<use href="#taxi" x="1863.7" y="1644.5" width="59" height="59" />
<use href="#Pclock" x="1634.7" y="505" width="59" height="59" />
<use href="#Pclock" x="2116" y="505" width="59" height="59" />
<use href="#Pwheel" x="2116" y="441.2" width="59" height="59" />
<use href="#Pwheel" x="2473.7" y="616.6" width="59" height="59" />
<use href="#scooter" x="2116" y="608.6" width="59" height="59" />
<use href="#bike" x="1700.5" y="540.5" width="59" height="59" />
<use href="#bike" x="2013" y="540.5" width="59" height="59" />
<use href="#mail" x="1629.7" y="636" width="59" height="59" />
<use href="#harrow" x="1647.2" y="753.7" width="59" height="59" transform="rotate(90 1676.7 783.2)"/>
<use href="#bikeroof" x="1586" y="805.6" width="59" height="59" />
<use href="#bikeroof" x="1206.6" y="863" width="59" height="59" />
<use href="#bike" x="1361.7" y="863" width="59" height="59" />
<use href="#bike" x="1430" y="810.8" width="59" height="59" />
<use href="#bike" x="997" y="819.3" width="59" height="59" />
<use href="#a76" x="1003.3" y="913" width="59" height="59" />
<use href="#a76" x="1490.5" y="1032.2" width="59" height="59" />
<use href="#a76" x="1003.3" y="1152.2" width="59" height="59" />
<use href="#automat" x="1810.5" y="690.5" width="59" height="59" />
<use href="#waiting" x="1873" y="690.5" width="59" height="59" />
<use href="#escalator" x="1819.7" y="793" width="59" height="59" />
<use href="#automat" x="1656.8" y="899" width="59" height="59" />
<use href="#automat" x="1870" y="1226" width="59" height="59" />
<use href="#locker" x="2108" y="885" width="59" height="59" />
<rect x="2108.8" y="885.8" width="57.2" height="57.2" fill="none" stroke="#5f5a94" stroke-width="1.6" />
<use href="#elevator" x="1914" y="1032" width="59" height="59" />
<rect x="1914.8" y="1032.8" width="57.4" height="57.4" fill="none" stroke="#5f5a94" stroke-width="1.6" />
<use href="#harrow" x="2272.4" y="851.6" width="59" height="59" />
<use href="#bike" x="2334" y="849.4" width="59" height="59" />
<use href="#bikeroof" x="2426.3" y="849.4" width="59" height="59" />
<use href="#bikeserv" x="2536.8" y="750" width="59" height="59" />
<use href="#harrow" x="2770.5" y="1161" width="59" height="59" />
<use href="#harrow" x="2383.3" y="1185.7" width="46.6" height="46.6" transform="rotate(45 2406.6 1209)"/>
<use href="#bike" x="2478" y="1233" width="59" height="59" />
<use href="#bikeroof" x="2602" y="1228" width="59" height="59" />
<use href="#carshare" x="2793.2" y="1227" width="59" height="59" />
<use href="#P" x="2904" y="1207.4" width="59" height="59" />
<use href="#bikeroof" x="1715" y="1380" width="59" height="59" />
<use href="#bikeroof" x="1959.2" y="1533" width="59" height="59" />
<use href="#P" x="2614" y="1540" width="59" height="59" />
<use href="#Pwheel" x="1154.2" y="1794.7" width="59" height="59" />
<use href="#PRroof" x="1216.8" y="1794.7" width="59" height="59" />
<use href="#bike" x="1445.8" y="1638" width="59" height="59" />
<use href="#bike" x="2089.5" y="1676.3" width="59" height="59" />
<use href="#scooter" x="1998" y="1717" width="59" height="59" />
<use href="#carshare" x="2191.8" y="1717" width="59" height="59" />
<use href="#Pcharge" x="2042.6" y="1783" width="59" height="59" />
<use href="#Pwheel" x="2223.4" y="1783" width="59" height="59" />
<use href="#Pclock" x="2103" y="1861" width="59" height="59" />
<use href="#PR" x="1437.5" y="2041.5" width="59" height="59" />
<use href="#Pclock" x="2124.8" y="2041.5" width="59" height="59" />
<text x="1954.7" y="725" font-size="24" fill="#fff" textLength="58.5" lengthAdjust="spacingAndGlyphs" >Imbiss</text>
<text x="1791.6" y="759" font-size="24" fill="#fff" text-anchor="end" textLength="65" lengthAdjust="spacingAndGlyphs" >Presse</text>
<text x="1791.6" y="788" font-size="24" fill="#fff" text-anchor="end" textLength="49" lengthAdjust="spacingAndGlyphs" >Shop</text>
<text x="1791.6" y="817" font-size="24" fill="#fff" text-anchor="end" textLength="59.5" lengthAdjust="spacingAndGlyphs" >Imbiss</text>
<text x="1912.8" y="898.5" font-size="24" fill="#000" textLength="64" lengthAdjust="spacingAndGlyphs" >Bäcker</text>
<text x="2175.5" y="830" font-size="24" fill="#000" text-anchor="middle" textLength="28" lengthAdjust="spacingAndGlyphs" >DB</text>
<text x="2116.3" y="859.5" font-size="24" fill="#000" textLength="118.4" lengthAdjust="spacingAndGlyphs" >ServiceTeam</text>
<text x="2251.3" y="845.5" font-size="24" fill="#000" textLength="155.3" lengthAdjust="spacingAndGlyphs" >Bahnhofsmission</text>
<text x="2365.5" y="820.5" font-size="24" fill="#000" textLength="121" lengthAdjust="spacingAndGlyphs" >Fahrradladen</text>
<text x="2561.6" y="840.8" font-size="24" fill="#000" textLength="117" lengthAdjust="spacingAndGlyphs" >Gastronomie</text>
<rect x="2199.5" y="584.7" width="265.5" height="82" rx="17" fill="#fff" stroke="#0058a1" stroke-width="2.2"/>
<use href="#ticket" x="2217" y="596" width="59" height="59" />
<text x="2283" y="617.6" font-size="24" fill="#000" textLength="127" lengthAdjust="spacingAndGlyphs" >Reisezentrum</text>
<text x="2283" y="650" font-size="24" fill="#000" textLength="170.5" lengthAdjust="spacingAndGlyphs" >Videoreisezentrum</text>
<path d="M2205,662 L1984,783" fill="none" stroke="#0058a1" stroke-width="2" />
<polygon points="1967.4,791.8 1978.4,774.7 1989,791.8" fill="#0058a1" stroke="none" stroke-width="0" />
<rect x="1398.6" y="650.2" width="154.7" height="80.3" rx="17" fill="#fff" stroke="#0058a1" stroke-width="2.2"/>
<use href="#wc" x="1415.7" y="661" width="59" height="59" />
<use href="#wcwheel" x="1477.2" y="661" width="59" height="59" />
<path d="M1549.5,724 L1766,883.2" fill="none" stroke="#0058a1" stroke-width="2" />
<polygon points="1781,894.7 1771.8,875 1759,891.8" fill="#0058a1" stroke="none" stroke-width="0" />
</g>
<rect x="64.6" y="555" width="726.3" height="998.4" fill="#fff" stroke="#5b8fc9" stroke-width="1.2" />
<rect x="64" y="503.5" width="727.5" height="51.3" fill="#0058a1" />
<rect x="64" y="561" width="36" height="993" fill="#0058a1" />
<text x="118.6" y="545.3" font-size="40.3" fill="#fff" font-weight="bold" id="t_p1">Bus-Anschlüsse Bahnhofplatz:</text>
<text x="123.6" y="596.2" font-size="29.2" fill="#1a1714" >20 Nürnberg Am Wegfeld</text>
<text x="123.6" y="628.9" font-size="29.2" fill="#1a1714" >30 Nürnberg Nordostbahnhof</text>
<text x="123.6" y="661.6" font-size="29.2" fill="#1a1714" >205, 253 Neuer Markt</text>
<text x="123.6" y="694.3" font-size="29.2" fill="#1a1714" >281, N28 Hüttendorf Tulpenweg</text>
<text x="123.6" y="727" font-size="29.2" fill="#1a1714" >284, 293 Bruck Bahnhof</text>
<text x="123.6" y="759.7" font-size="29.2" fill="#1a1714" >285, 286 Bruck Max-Planck-Str</text>
<text x="123.6" y="792.4" font-size="29.2" fill="#1a1714" >287, 293 Arcaden, Sebaldussiedlung</text>
<text x="123.6" y="825.1" font-size="29.2" fill="#1a1714" >289 Klinikum Europakanal, In der Reuth</text>
<text x="123.6" y="857.8" font-size="29.2" fill="#1a1714" >290 Nürnberg Am Steig, Am Wegfeld</text>
<text x="123.6" y="890.5" font-size="29.2" fill="#1a1714" >294, N29 Langfeldstr, Eltersdorf Volckamerstraße</text>
<text x="123.6" y="923.2" font-size="29.2" fill="#1a1714" >295 Tennenlohe Frauenweiherstraße</text>
<text x="123.6" y="955.9" font-size="29.2" fill="#1a1714" >299 City Linie Ri Arcaden, Busbahnhof</text>
<text x="123.6" y="988.6" font-size="29.2" fill="#1a1714" >N10 Nürnberg Hbf</text>
<text x="123.6" y="1021.3" font-size="29.2" fill="#1a1714" >N20 Fürth Rathaus U</text>
<text x="123.6" y="1064.6" font-size="29.2" fill="#1a1714" >205 Höchstadt (A) Schwedenschanze, Realschule</text>
<text x="123.6" y="1097.3" font-size="29.2" fill="#1a1714" >253 Bubenreuth Bruckwiesen, Spardorf</text>
<text x="123.6" y="1130" font-size="29.2" fill="#1a1714" >254 Kleinseebach Heideweg</text>
<text x="123.6" y="1162.7" font-size="29.2" fill="#1a1714" >286 Büchenbach Lindnerstraße</text>
<text x="123.6" y="1195.4" font-size="29.2" fill="#1a1714" >287 Büchenbach Lindnerstraße, Westfriedhof</text>
<text x="123.6" y="1228.1" font-size="29.2" fill="#1a1714" >289, 290 Waldkrankenhaus</text>
<text x="123.6" y="1260.8" font-size="29.2" fill="#1a1714" >299 City Linie Ri Unikliniken, Zollhaus</text>
<text x="123.6" y="1305.5" font-size="29.2" fill="#1a1714" >20, 30, 283, 286, 295 Hugenottenplatz</text>
<text x="123.6" y="1338.2" font-size="29.2" fill="#1a1714" >284, 294 Sieglitzhof Eskilstunastraße</text>
<text x="123.6" y="1370.9" font-size="29.2" fill="#1a1714" >285, N28 Buckenhof</text>
<text x="123.6" y="1403.6" font-size="29.2" fill="#1a1714" >299 City Linie Ri Zollhaus, Unikliniken</text>
<text x="123.6" y="1436.3" font-size="29.2" fill="#1a1714" >N10, N20, N27, N29 Hugenottenplatz</text>
<text x="123.6" y="1481" font-size="29.2" fill="#1a1714" >202 Weisendorf Waldfriedhof, Sauerheim</text>
<text x="123.6" y="1514.2" font-size="29.2" fill="#1a1714" >252 Baiersdorf Am Kreuzbach</text>
<text x="123.6" y="1547.4" font-size="29.2" fill="#1a1714" >283 Dechsendorfer Weiher</text>
<text x="82" y="596.7" font-size="37.5" fill="#fff" font-weight="bold" text-anchor="middle" >A</text>
<text x="82" y="1066.8" font-size="37.5" fill="#fff" font-weight="bold" text-anchor="middle" >B</text>
<text x="82" y="1307.6" font-size="37.5" fill="#fff" font-weight="bold" text-anchor="middle" >C</text>
<text x="82" y="1483.2" font-size="37.5" fill="#fff" font-weight="bold" text-anchor="middle" >D</text>
<rect x="64.6" y="1620.5" width="726.3" height="434.9" fill="#fff" stroke="#5b8fc9" stroke-width="1.2" />
<rect x="64" y="1563" width="727.5" height="50.5" fill="#0058a1" />
<rect x="64" y="1620" width="36" height="436" fill="#0058a1" />
<text x="118.6" y="1604.6" font-size="40.3" fill="#fff" font-weight="bold" id="t_p2">Bus-Anschlüsse Busbahnhof:</text>
<text x="123.6" y="1654.6" font-size="29.2" fill="#1a1714" >200 Herzo-Express Ri Herzogenaurach Badgasse</text>
<text x="123.6" y="1688" font-size="29.2" fill="#1a1714" >299 City Linie Ri Zollhaus, Unikliniken</text>
<text x="123.6" y="1732.4" font-size="29.2" fill="#1a1714" >201 Münchaurach Königstr, Schule, Neundorf</text>
<text x="123.6" y="1765.6" font-size="29.2" fill="#1a1714" >203, 203E Höchstadt Schwedenschanze, Realsch.</text>
<text x="123.6" y="1798.6" font-size="29.2" fill="#1a1714" >203, 203E Neuer Markt/Rathaus</text>
<text x="123.6" y="1842.2" font-size="29.2" fill="#1a1714" >208 Baiersdorf Bahnhof Ostseite, Grundschule</text>
<text x="123.6" y="1875.4" font-size="29.2" fill="#1a1714" >209 Neunkirchen a Br Busbf, Eschenau Bahnhof</text>
<text x="123.6" y="1908.4" font-size="29.2" fill="#1a1714" >209E Schnellbus Ri Eschenau Bahnhof</text>
<text x="123.6" y="1953" font-size="29.2" fill="#1a1714" >210 Heroldsberg Oberer Markt</text>
<text x="123.6" y="1999.7" font-size="29.2" fill="#1a1714" >202E Seebach-Express Ri Weisendorf Schule</text>
<text x="123.6" y="2045" font-size="29.2" fill="#1a1714" >Fernbusabfahrten</text>
<text x="82" y="1657.5" font-size="37.5" fill="#fff" font-weight="bold" text-anchor="middle" >1</text>
<text x="82" y="1734.8" font-size="37.5" fill="#fff" font-weight="bold" text-anchor="middle" >2</text>
<text x="82" y="1845.5" font-size="37.5" fill="#fff" font-weight="bold" text-anchor="middle" >3</text>
<text x="82" y="1955.3" font-size="37.5" fill="#fff" font-weight="bold" text-anchor="middle" >4</text>
<text x="82" y="2002" font-size="37.5" fill="#fff" font-weight="bold" text-anchor="middle" >5</text>
<text x="82" y="2047.4" font-size="37.5" fill="#fff" font-weight="bold" text-anchor="middle" >6</text>
</svg></body></html>
